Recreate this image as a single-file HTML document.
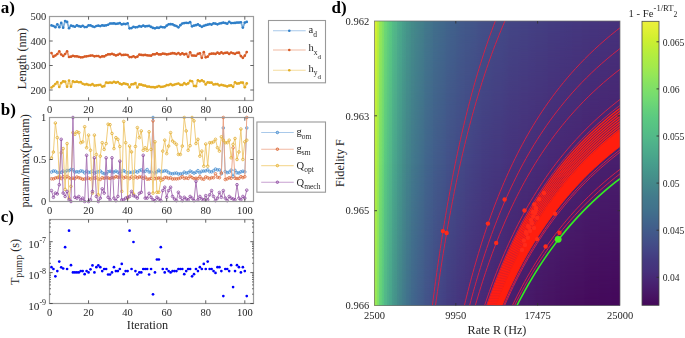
<!DOCTYPE html>
<html><head><meta charset="utf-8"><style>
html,body{margin:0;padding:0;background:#fff;}
body{width:685px;height:338px;overflow:hidden;}
svg{display:block;font-family:"Liberation Serif",serif;}
text{filter:url(#soft);}
text.r{filter:none;}
</style></head><body>
<svg width="685" height="338" viewBox="0 0 685 338">
<defs><filter id="soft" x="-10%" y="-10%" width="120%" height="120%"><feGaussianBlur stdDeviation="0.24"/></filter><filter id="soft2" x="-10%" y="-10%" width="120%" height="120%"><feGaussianBlur stdDeviation="0.12"/></filter></defs>
<rect width="685" height="338" fill="#fff"/>
<polyline points="51.45,25.4 53.41,26 55.36,27.2 57.31,24.3 59.27,27.2 61.22,22.9 63.17,27.7 65.12,21.1 67.08,21.9 69.03,28.2 70.98,25.7 72.94,26.18 74.89,26.77 76.84,25.39 78.8,26.18 80.75,26.67 82.7,25.78 84.65,27.06 86.61,26.98 88.56,25.41 90.51,25.39 92.47,26.31 94.42,27.02 96.37,26.01 98.33,25.71 100.28,26.07 102.23,25.36 104.18,25.7 106.14,25.35 108.09,24.73 110.04,23.52 112,23.49 113.95,23.45 115.9,23.86 117.86,23.53 119.81,23.03 121.76,24.47 123.71,23.95 125.67,24.08 127.62,23.23 129.57,28.29 131.53,28.11 133.48,26.85 135.43,27.3 137.38,27.1 139.34,26.18 141.29,26.59 143.24,25.66 145.2,26.39 147.15,26.11 149.1,25.92 151.06,26.91 153.01,27.91 154.96,28.32 156.92,27.71 158.87,27.86 160.82,26.86 162.77,27.24 164.73,27.32 166.68,25.72 168.63,24.37 170.59,24.14 172.54,24.32 174.49,25.42 176.44,26.03 178.4,27.29 180.35,25.22 182.3,23.5 184.26,23.04 186.21,22.81 188.16,22.98 190.12,22.15 192.07,26.28 194.02,25.6 195.97,25.17 197.93,24.47 199.88,25.66 201.83,26.81 203.79,25.85 205.74,25.17 207.69,24.65 209.65,24.1 211.6,24.54 213.55,23.28 215.5,23.65 217.46,24.3 219.41,23.49 221.36,23.14 223.32,22.67 225.27,23.03 227.22,23.63 229.18,21.79 231.13,23.05 233.08,22.98 235.03,22.97 236.99,22.57 238.94,22.56 240.89,22.23 242.85,27.6 244.8,22.57 246.75,21.9" fill="none" stroke="#7fb0dc" stroke-width="1.8" stroke-linejoin="round"/>
<g fill="#2f7fc8">
<circle cx="51.45" cy="25.4" r="1.35"/>
<circle cx="53.41" cy="26" r="1.35"/>
<circle cx="55.36" cy="27.2" r="1.35"/>
<circle cx="57.31" cy="24.3" r="1.35"/>
<circle cx="59.27" cy="27.2" r="1.35"/>
<circle cx="61.22" cy="22.9" r="1.35"/>
<circle cx="63.17" cy="27.7" r="1.35"/>
<circle cx="65.12" cy="21.1" r="1.35"/>
<circle cx="67.08" cy="21.9" r="1.35"/>
<circle cx="69.03" cy="28.2" r="1.35"/>
<circle cx="70.98" cy="25.7" r="1.35"/>
<circle cx="72.94" cy="26.18" r="1.35"/>
<circle cx="74.89" cy="26.77" r="1.35"/>
<circle cx="76.84" cy="25.39" r="1.35"/>
<circle cx="78.8" cy="26.18" r="1.35"/>
<circle cx="80.75" cy="26.67" r="1.35"/>
<circle cx="82.7" cy="25.78" r="1.35"/>
<circle cx="84.65" cy="27.06" r="1.35"/>
<circle cx="86.61" cy="26.98" r="1.35"/>
<circle cx="88.56" cy="25.41" r="1.35"/>
<circle cx="90.51" cy="25.39" r="1.35"/>
<circle cx="92.47" cy="26.31" r="1.35"/>
<circle cx="94.42" cy="27.02" r="1.35"/>
<circle cx="96.37" cy="26.01" r="1.35"/>
<circle cx="98.33" cy="25.71" r="1.35"/>
<circle cx="100.28" cy="26.07" r="1.35"/>
<circle cx="102.23" cy="25.36" r="1.35"/>
<circle cx="104.18" cy="25.7" r="1.35"/>
<circle cx="106.14" cy="25.35" r="1.35"/>
<circle cx="108.09" cy="24.73" r="1.35"/>
<circle cx="110.04" cy="23.52" r="1.35"/>
<circle cx="112" cy="23.49" r="1.35"/>
<circle cx="113.95" cy="23.45" r="1.35"/>
<circle cx="115.9" cy="23.86" r="1.35"/>
<circle cx="117.86" cy="23.53" r="1.35"/>
<circle cx="119.81" cy="23.03" r="1.35"/>
<circle cx="121.76" cy="24.47" r="1.35"/>
<circle cx="123.71" cy="23.95" r="1.35"/>
<circle cx="125.67" cy="24.08" r="1.35"/>
<circle cx="127.62" cy="23.23" r="1.35"/>
<circle cx="129.57" cy="28.29" r="1.35"/>
<circle cx="131.53" cy="28.11" r="1.35"/>
<circle cx="133.48" cy="26.85" r="1.35"/>
<circle cx="135.43" cy="27.3" r="1.35"/>
<circle cx="137.38" cy="27.1" r="1.35"/>
<circle cx="139.34" cy="26.18" r="1.35"/>
<circle cx="141.29" cy="26.59" r="1.35"/>
<circle cx="143.24" cy="25.66" r="1.35"/>
<circle cx="145.2" cy="26.39" r="1.35"/>
<circle cx="147.15" cy="26.11" r="1.35"/>
<circle cx="149.1" cy="25.92" r="1.35"/>
<circle cx="151.06" cy="26.91" r="1.35"/>
<circle cx="153.01" cy="27.91" r="1.35"/>
<circle cx="154.96" cy="28.32" r="1.35"/>
<circle cx="156.92" cy="27.71" r="1.35"/>
<circle cx="158.87" cy="27.86" r="1.35"/>
<circle cx="160.82" cy="26.86" r="1.35"/>
<circle cx="162.77" cy="27.24" r="1.35"/>
<circle cx="164.73" cy="27.32" r="1.35"/>
<circle cx="166.68" cy="25.72" r="1.35"/>
<circle cx="168.63" cy="24.37" r="1.35"/>
<circle cx="170.59" cy="24.14" r="1.35"/>
<circle cx="172.54" cy="24.32" r="1.35"/>
<circle cx="174.49" cy="25.42" r="1.35"/>
<circle cx="176.44" cy="26.03" r="1.35"/>
<circle cx="178.4" cy="27.29" r="1.35"/>
<circle cx="180.35" cy="25.22" r="1.35"/>
<circle cx="182.3" cy="23.5" r="1.35"/>
<circle cx="184.26" cy="23.04" r="1.35"/>
<circle cx="186.21" cy="22.81" r="1.35"/>
<circle cx="188.16" cy="22.98" r="1.35"/>
<circle cx="190.12" cy="22.15" r="1.35"/>
<circle cx="192.07" cy="26.28" r="1.35"/>
<circle cx="194.02" cy="25.6" r="1.35"/>
<circle cx="195.97" cy="25.17" r="1.35"/>
<circle cx="197.93" cy="24.47" r="1.35"/>
<circle cx="199.88" cy="25.66" r="1.35"/>
<circle cx="201.83" cy="26.81" r="1.35"/>
<circle cx="203.79" cy="25.85" r="1.35"/>
<circle cx="205.74" cy="25.17" r="1.35"/>
<circle cx="207.69" cy="24.65" r="1.35"/>
<circle cx="209.65" cy="24.1" r="1.35"/>
<circle cx="211.6" cy="24.54" r="1.35"/>
<circle cx="213.55" cy="23.28" r="1.35"/>
<circle cx="215.5" cy="23.65" r="1.35"/>
<circle cx="217.46" cy="24.3" r="1.35"/>
<circle cx="219.41" cy="23.49" r="1.35"/>
<circle cx="221.36" cy="23.14" r="1.35"/>
<circle cx="223.32" cy="22.67" r="1.35"/>
<circle cx="225.27" cy="23.03" r="1.35"/>
<circle cx="227.22" cy="23.63" r="1.35"/>
<circle cx="229.18" cy="21.79" r="1.35"/>
<circle cx="231.13" cy="23.05" r="1.35"/>
<circle cx="233.08" cy="22.98" r="1.35"/>
<circle cx="235.03" cy="22.97" r="1.35"/>
<circle cx="236.99" cy="22.57" r="1.35"/>
<circle cx="238.94" cy="22.56" r="1.35"/>
<circle cx="240.89" cy="22.23" r="1.35"/>
<circle cx="242.85" cy="27.6" r="1.35"/>
<circle cx="244.8" cy="22.57" r="1.35"/>
<circle cx="246.75" cy="21.9" r="1.35"/>
</g>
<polyline points="51.45,53 53.41,56.7 55.36,55.5 57.31,54 59.27,51.4 61.22,54.5 63.17,56 65.12,54 67.08,51.4 69.03,57 70.98,56.7 72.94,55.89 74.89,56.36 76.84,56.28 78.8,56.86 80.75,57.34 82.7,57.25 84.65,56.5 86.61,56.31 88.56,55.98 90.51,55.55 92.47,55.52 94.42,56.3 96.37,56.02 98.33,56.12 100.28,57.03 102.23,56.36 104.18,56.41 106.14,55.26 108.09,54.31 110.04,54.29 112,53.91 113.95,54.55 115.9,55.4 117.86,54.78 119.81,53.86 121.76,55.11 123.71,54.9 125.67,54.76 127.62,55.03 129.57,57.07 131.53,57.09 133.48,56.27 135.43,57.37 137.38,56.66 139.34,54.56 141.29,54.96 143.24,55.14 145.2,54.93 147.15,55.3 149.1,55.48 151.06,55.66 153.01,54.3 154.96,54.3 156.92,53.44 158.87,54.39 160.82,54.42 162.77,53.63 164.73,53.82 166.68,54.46 168.63,54.1 170.59,53.68 172.54,53.2 174.49,53.38 176.44,54.06 178.4,53.1 180.35,54.43 182.3,53.28 184.26,54.44 186.21,53.87 188.16,56.8 190.12,52.3 192.07,55.51 194.02,55.53 195.97,55.77 197.93,53.86 199.88,53.36 201.83,57.8 203.79,52.2 205.74,57.28 207.69,56.72 209.65,54.04 211.6,53.69 213.55,53.61 215.5,53.93 217.46,52.64 219.41,53.64 221.36,52.41 223.32,53.48 225.27,52.79 227.22,52.71 229.18,53.88 231.13,52.49 233.08,53.24 235.03,53.84 236.99,52.74 238.94,52.68 240.89,56.09 242.85,57.8 244.8,55.64 246.75,52.06" fill="none" stroke="#e99a78" stroke-width="1.8" stroke-linejoin="round"/>
<g fill="#d65a24">
<circle cx="51.45" cy="53" r="1.35"/>
<circle cx="53.41" cy="56.7" r="1.35"/>
<circle cx="55.36" cy="55.5" r="1.35"/>
<circle cx="57.31" cy="54" r="1.35"/>
<circle cx="59.27" cy="51.4" r="1.35"/>
<circle cx="61.22" cy="54.5" r="1.35"/>
<circle cx="63.17" cy="56" r="1.35"/>
<circle cx="65.12" cy="54" r="1.35"/>
<circle cx="67.08" cy="51.4" r="1.35"/>
<circle cx="69.03" cy="57" r="1.35"/>
<circle cx="70.98" cy="56.7" r="1.35"/>
<circle cx="72.94" cy="55.89" r="1.35"/>
<circle cx="74.89" cy="56.36" r="1.35"/>
<circle cx="76.84" cy="56.28" r="1.35"/>
<circle cx="78.8" cy="56.86" r="1.35"/>
<circle cx="80.75" cy="57.34" r="1.35"/>
<circle cx="82.7" cy="57.25" r="1.35"/>
<circle cx="84.65" cy="56.5" r="1.35"/>
<circle cx="86.61" cy="56.31" r="1.35"/>
<circle cx="88.56" cy="55.98" r="1.35"/>
<circle cx="90.51" cy="55.55" r="1.35"/>
<circle cx="92.47" cy="55.52" r="1.35"/>
<circle cx="94.42" cy="56.3" r="1.35"/>
<circle cx="96.37" cy="56.02" r="1.35"/>
<circle cx="98.33" cy="56.12" r="1.35"/>
<circle cx="100.28" cy="57.03" r="1.35"/>
<circle cx="102.23" cy="56.36" r="1.35"/>
<circle cx="104.18" cy="56.41" r="1.35"/>
<circle cx="106.14" cy="55.26" r="1.35"/>
<circle cx="108.09" cy="54.31" r="1.35"/>
<circle cx="110.04" cy="54.29" r="1.35"/>
<circle cx="112" cy="53.91" r="1.35"/>
<circle cx="113.95" cy="54.55" r="1.35"/>
<circle cx="115.9" cy="55.4" r="1.35"/>
<circle cx="117.86" cy="54.78" r="1.35"/>
<circle cx="119.81" cy="53.86" r="1.35"/>
<circle cx="121.76" cy="55.11" r="1.35"/>
<circle cx="123.71" cy="54.9" r="1.35"/>
<circle cx="125.67" cy="54.76" r="1.35"/>
<circle cx="127.62" cy="55.03" r="1.35"/>
<circle cx="129.57" cy="57.07" r="1.35"/>
<circle cx="131.53" cy="57.09" r="1.35"/>
<circle cx="133.48" cy="56.27" r="1.35"/>
<circle cx="135.43" cy="57.37" r="1.35"/>
<circle cx="137.38" cy="56.66" r="1.35"/>
<circle cx="139.34" cy="54.56" r="1.35"/>
<circle cx="141.29" cy="54.96" r="1.35"/>
<circle cx="143.24" cy="55.14" r="1.35"/>
<circle cx="145.2" cy="54.93" r="1.35"/>
<circle cx="147.15" cy="55.3" r="1.35"/>
<circle cx="149.1" cy="55.48" r="1.35"/>
<circle cx="151.06" cy="55.66" r="1.35"/>
<circle cx="153.01" cy="54.3" r="1.35"/>
<circle cx="154.96" cy="54.3" r="1.35"/>
<circle cx="156.92" cy="53.44" r="1.35"/>
<circle cx="158.87" cy="54.39" r="1.35"/>
<circle cx="160.82" cy="54.42" r="1.35"/>
<circle cx="162.77" cy="53.63" r="1.35"/>
<circle cx="164.73" cy="53.82" r="1.35"/>
<circle cx="166.68" cy="54.46" r="1.35"/>
<circle cx="168.63" cy="54.1" r="1.35"/>
<circle cx="170.59" cy="53.68" r="1.35"/>
<circle cx="172.54" cy="53.2" r="1.35"/>
<circle cx="174.49" cy="53.38" r="1.35"/>
<circle cx="176.44" cy="54.06" r="1.35"/>
<circle cx="178.4" cy="53.1" r="1.35"/>
<circle cx="180.35" cy="54.43" r="1.35"/>
<circle cx="182.3" cy="53.28" r="1.35"/>
<circle cx="184.26" cy="54.44" r="1.35"/>
<circle cx="186.21" cy="53.87" r="1.35"/>
<circle cx="188.16" cy="56.8" r="1.35"/>
<circle cx="190.12" cy="52.3" r="1.35"/>
<circle cx="192.07" cy="55.51" r="1.35"/>
<circle cx="194.02" cy="55.53" r="1.35"/>
<circle cx="195.97" cy="55.77" r="1.35"/>
<circle cx="197.93" cy="53.86" r="1.35"/>
<circle cx="199.88" cy="53.36" r="1.35"/>
<circle cx="201.83" cy="57.8" r="1.35"/>
<circle cx="203.79" cy="52.2" r="1.35"/>
<circle cx="205.74" cy="57.28" r="1.35"/>
<circle cx="207.69" cy="56.72" r="1.35"/>
<circle cx="209.65" cy="54.04" r="1.35"/>
<circle cx="211.6" cy="53.69" r="1.35"/>
<circle cx="213.55" cy="53.61" r="1.35"/>
<circle cx="215.5" cy="53.93" r="1.35"/>
<circle cx="217.46" cy="52.64" r="1.35"/>
<circle cx="219.41" cy="53.64" r="1.35"/>
<circle cx="221.36" cy="52.41" r="1.35"/>
<circle cx="223.32" cy="53.48" r="1.35"/>
<circle cx="225.27" cy="52.79" r="1.35"/>
<circle cx="227.22" cy="52.71" r="1.35"/>
<circle cx="229.18" cy="53.88" r="1.35"/>
<circle cx="231.13" cy="52.49" r="1.35"/>
<circle cx="233.08" cy="53.24" r="1.35"/>
<circle cx="235.03" cy="53.84" r="1.35"/>
<circle cx="236.99" cy="52.74" r="1.35"/>
<circle cx="238.94" cy="52.68" r="1.35"/>
<circle cx="240.89" cy="56.09" r="1.35"/>
<circle cx="242.85" cy="57.8" r="1.35"/>
<circle cx="244.8" cy="55.64" r="1.35"/>
<circle cx="246.75" cy="52.06" r="1.35"/>
</g>
<polyline points="51.45,87.5 53.41,86 55.36,84 57.31,82.1 59.27,87 61.22,83 63.17,81.4 65.12,81.6 67.08,86.7 69.03,80.6 70.98,86.7 72.94,81.4 74.89,82.01 76.84,81.66 78.8,82.25 80.75,82.12 82.7,83.74 84.65,84.49 86.61,84.19 88.56,84.91 90.51,85.11 92.47,84.15 94.42,85.53 96.37,85.36 98.33,85.09 100.28,84.86 102.23,86.61 104.18,86.15 106.14,82.49 108.09,82.78 110.04,82.49 112,82.86 113.95,81.91 115.9,82.64 117.86,82 119.81,83.68 121.76,84.38 123.71,83.38 125.67,83.84 127.62,84.39 129.57,87.24 131.53,84.29 133.48,84.13 135.43,83.04 137.38,87.51 139.34,84.39 141.29,84.65 143.24,85.39 145.2,85.71 147.15,86.61 149.1,86.53 151.06,87.07 153.01,87.04 154.96,87.38 156.92,86.91 158.87,86.09 160.82,86.95 162.77,86.74 164.73,86.23 166.68,85.22 168.63,85.08 170.59,84.1 172.54,85.13 174.49,84.58 176.44,83.98 178.4,83.5 180.35,84.84 182.3,84.93 184.26,83.16 186.21,84.29 188.16,83.44 190.12,80.97 192.07,81.23 194.02,85.98 195.97,86.17 197.93,80.28 199.88,81.31 201.83,80.28 203.79,81.49 205.74,84.4 207.69,82.29 209.65,82.67 211.6,82.71 213.55,84.5 215.5,84.16 217.46,84.14 219.41,85.48 221.36,84.86 223.32,85.32 225.27,85.87 227.22,86.4 229.18,85.58 231.13,85.38 233.08,86.86 235.03,82.36 236.99,83.53 238.94,83.41 240.89,82.48 242.85,82.63 244.8,87.24 246.75,83.46" fill="none" stroke="#f0cb72" stroke-width="1.8" stroke-linejoin="round"/>
<g fill="#e2aa22">
<circle cx="51.45" cy="87.5" r="1.35"/>
<circle cx="53.41" cy="86" r="1.35"/>
<circle cx="55.36" cy="84" r="1.35"/>
<circle cx="57.31" cy="82.1" r="1.35"/>
<circle cx="59.27" cy="87" r="1.35"/>
<circle cx="61.22" cy="83" r="1.35"/>
<circle cx="63.17" cy="81.4" r="1.35"/>
<circle cx="65.12" cy="81.6" r="1.35"/>
<circle cx="67.08" cy="86.7" r="1.35"/>
<circle cx="69.03" cy="80.6" r="1.35"/>
<circle cx="70.98" cy="86.7" r="1.35"/>
<circle cx="72.94" cy="81.4" r="1.35"/>
<circle cx="74.89" cy="82.01" r="1.35"/>
<circle cx="76.84" cy="81.66" r="1.35"/>
<circle cx="78.8" cy="82.25" r="1.35"/>
<circle cx="80.75" cy="82.12" r="1.35"/>
<circle cx="82.7" cy="83.74" r="1.35"/>
<circle cx="84.65" cy="84.49" r="1.35"/>
<circle cx="86.61" cy="84.19" r="1.35"/>
<circle cx="88.56" cy="84.91" r="1.35"/>
<circle cx="90.51" cy="85.11" r="1.35"/>
<circle cx="92.47" cy="84.15" r="1.35"/>
<circle cx="94.42" cy="85.53" r="1.35"/>
<circle cx="96.37" cy="85.36" r="1.35"/>
<circle cx="98.33" cy="85.09" r="1.35"/>
<circle cx="100.28" cy="84.86" r="1.35"/>
<circle cx="102.23" cy="86.61" r="1.35"/>
<circle cx="104.18" cy="86.15" r="1.35"/>
<circle cx="106.14" cy="82.49" r="1.35"/>
<circle cx="108.09" cy="82.78" r="1.35"/>
<circle cx="110.04" cy="82.49" r="1.35"/>
<circle cx="112" cy="82.86" r="1.35"/>
<circle cx="113.95" cy="81.91" r="1.35"/>
<circle cx="115.9" cy="82.64" r="1.35"/>
<circle cx="117.86" cy="82" r="1.35"/>
<circle cx="119.81" cy="83.68" r="1.35"/>
<circle cx="121.76" cy="84.38" r="1.35"/>
<circle cx="123.71" cy="83.38" r="1.35"/>
<circle cx="125.67" cy="83.84" r="1.35"/>
<circle cx="127.62" cy="84.39" r="1.35"/>
<circle cx="129.57" cy="87.24" r="1.35"/>
<circle cx="131.53" cy="84.29" r="1.35"/>
<circle cx="133.48" cy="84.13" r="1.35"/>
<circle cx="135.43" cy="83.04" r="1.35"/>
<circle cx="137.38" cy="87.51" r="1.35"/>
<circle cx="139.34" cy="84.39" r="1.35"/>
<circle cx="141.29" cy="84.65" r="1.35"/>
<circle cx="143.24" cy="85.39" r="1.35"/>
<circle cx="145.2" cy="85.71" r="1.35"/>
<circle cx="147.15" cy="86.61" r="1.35"/>
<circle cx="149.1" cy="86.53" r="1.35"/>
<circle cx="151.06" cy="87.07" r="1.35"/>
<circle cx="153.01" cy="87.04" r="1.35"/>
<circle cx="154.96" cy="87.38" r="1.35"/>
<circle cx="156.92" cy="86.91" r="1.35"/>
<circle cx="158.87" cy="86.09" r="1.35"/>
<circle cx="160.82" cy="86.95" r="1.35"/>
<circle cx="162.77" cy="86.74" r="1.35"/>
<circle cx="164.73" cy="86.23" r="1.35"/>
<circle cx="166.68" cy="85.22" r="1.35"/>
<circle cx="168.63" cy="85.08" r="1.35"/>
<circle cx="170.59" cy="84.1" r="1.35"/>
<circle cx="172.54" cy="85.13" r="1.35"/>
<circle cx="174.49" cy="84.58" r="1.35"/>
<circle cx="176.44" cy="83.98" r="1.35"/>
<circle cx="178.4" cy="83.5" r="1.35"/>
<circle cx="180.35" cy="84.84" r="1.35"/>
<circle cx="182.3" cy="84.93" r="1.35"/>
<circle cx="184.26" cy="83.16" r="1.35"/>
<circle cx="186.21" cy="84.29" r="1.35"/>
<circle cx="188.16" cy="83.44" r="1.35"/>
<circle cx="190.12" cy="80.97" r="1.35"/>
<circle cx="192.07" cy="81.23" r="1.35"/>
<circle cx="194.02" cy="85.98" r="1.35"/>
<circle cx="195.97" cy="86.17" r="1.35"/>
<circle cx="197.93" cy="80.28" r="1.35"/>
<circle cx="199.88" cy="81.31" r="1.35"/>
<circle cx="201.83" cy="80.28" r="1.35"/>
<circle cx="203.79" cy="81.49" r="1.35"/>
<circle cx="205.74" cy="84.4" r="1.35"/>
<circle cx="207.69" cy="82.29" r="1.35"/>
<circle cx="209.65" cy="82.67" r="1.35"/>
<circle cx="211.6" cy="82.71" r="1.35"/>
<circle cx="213.55" cy="84.5" r="1.35"/>
<circle cx="215.5" cy="84.16" r="1.35"/>
<circle cx="217.46" cy="84.14" r="1.35"/>
<circle cx="219.41" cy="85.48" r="1.35"/>
<circle cx="221.36" cy="84.86" r="1.35"/>
<circle cx="223.32" cy="85.32" r="1.35"/>
<circle cx="225.27" cy="85.87" r="1.35"/>
<circle cx="227.22" cy="86.4" r="1.35"/>
<circle cx="229.18" cy="85.58" r="1.35"/>
<circle cx="231.13" cy="85.38" r="1.35"/>
<circle cx="233.08" cy="86.86" r="1.35"/>
<circle cx="235.03" cy="82.36" r="1.35"/>
<circle cx="236.99" cy="83.53" r="1.35"/>
<circle cx="238.94" cy="83.41" r="1.35"/>
<circle cx="240.89" cy="82.48" r="1.35"/>
<circle cx="242.85" cy="82.63" r="1.35"/>
<circle cx="244.8" cy="87.24" r="1.35"/>
<circle cx="246.75" cy="83.46" r="1.35"/>
</g>
<rect x="49.5" y="16.5" width="204" height="84" fill="none" stroke="#9c9c9c" stroke-width="1.2"/>
<text x="49.5" y="113" font-size="10.5" text-anchor="middle" fill="#262626" >0</text>
<path d="M88.56 100.5v-3.2M88.56 16.5v3.2" stroke="#3a3a3a" stroke-width="0.8"/>
<text x="88.56" y="113" font-size="10.5" text-anchor="middle" fill="#262626" >20</text>
<path d="M127.62 100.5v-3.2M127.62 16.5v3.2" stroke="#3a3a3a" stroke-width="0.8"/>
<text x="127.62" y="113" font-size="10.5" text-anchor="middle" fill="#262626" >40</text>
<path d="M166.68 100.5v-3.2M166.68 16.5v3.2" stroke="#3a3a3a" stroke-width="0.8"/>
<text x="166.68" y="113" font-size="10.5" text-anchor="middle" fill="#262626" >60</text>
<path d="M205.74 100.5v-3.2M205.74 16.5v3.2" stroke="#3a3a3a" stroke-width="0.8"/>
<text x="205.74" y="113" font-size="10.5" text-anchor="middle" fill="#262626" >80</text>
<path d="M244.8 100.5v-3.2M244.8 16.5v3.2" stroke="#3a3a3a" stroke-width="0.8"/>
<text x="244.8" y="113" font-size="10.5" text-anchor="middle" fill="#262626" >100</text>
<text x="46.3" y="20.1" font-size="10.5" text-anchor="end" fill="#262626" >500</text>
<path d="M49.5 41h3.2M253.5 41h-3.2" stroke="#3a3a3a" stroke-width="0.8"/>
<text x="46.3" y="44.6" font-size="10.5" text-anchor="end" fill="#262626" >400</text>
<path d="M49.5 65.5h3.2M253.5 65.5h-3.2" stroke="#3a3a3a" stroke-width="0.8"/>
<text x="46.3" y="69.1" font-size="10.5" text-anchor="end" fill="#262626" >300</text>
<path d="M49.5 90h3.2M253.5 90h-3.2" stroke="#3a3a3a" stroke-width="0.8"/>
<text x="46.3" y="93.6" font-size="10.5" text-anchor="end" fill="#262626" >200</text>
<text class="r" transform="translate(25.8 58.5) rotate(-90)" font-size="12.2" text-anchor="middle" fill="#262626">Length (nm)</text>
<rect x="268.5" y="20.5" width="57" height="62.3" fill="#fff" stroke="#999" stroke-width="1.1"/>
<path d="M273 30.8H305.7" stroke="#a9c9ea" stroke-width="1.1"/>
<circle cx="289.3" cy="30.8" r="1.3" fill="#2f7fc8"/>
<path d="M273 50H305.7" stroke="#f2b9a2" stroke-width="1.1"/>
<circle cx="289.3" cy="50" r="1.3" fill="#d65a24"/>
<path d="M273 70.3H305.7" stroke="#f5dc9e" stroke-width="1.1"/>
<circle cx="289.3" cy="70.3" r="1.3" fill="#e2aa22"/>
<text x="308.5" y="32.6" font-size="10.5" fill="#262626">a<tspan font-size="7.5" dy="4.8">d</tspan></text>
<text x="308.5" y="51.2" font-size="10.5" fill="#262626">h<tspan font-size="7.5" dy="4.0">x</tspan><tspan font-size="7" dy="4.0">d</tspan></text>
<text x="308.5" y="71.6" font-size="10.5" fill="#262626">h<tspan font-size="7.5" dy="3.7">y</tspan><tspan font-size="7" dy="3.7">d</tspan></text>
<polyline points="51.45,172.07 53.41,170.95 55.36,171.17 57.31,172.5 59.27,172.46 61.22,172.27 63.17,171.14 65.12,172 67.08,170.46 69.03,170.61 70.98,169.43 72.94,169.83 74.89,172.06 76.84,171.65 78.8,172.14 80.75,170.88 82.7,171.28 84.65,172.89 86.61,171.16 88.56,172.4 90.51,172.12 92.47,171.21 94.42,172.99 96.37,172.24 98.33,171.7 100.28,171.01 102.23,172.75 104.18,173.57 106.14,173.91 108.09,171.69 110.04,171.3 112,171.77 113.95,172.03 115.9,171.14 117.86,172.12 119.81,173.24 121.76,171.33 123.71,170.66 125.67,171.84 127.62,172.81 129.57,172.24 131.53,172.46 133.48,172.15 135.43,171.28 137.38,172.16 139.34,170.71 141.29,169.87 143.24,171.52 145.2,171.31 147.15,169.55 149.1,171.99 151.06,171.91 153.01,117.5 154.96,172.83 156.92,171.86 158.87,170.23 160.82,171.7 162.77,171.35 164.73,170.81 166.68,171 168.63,172.57 170.59,173.54 172.54,173.74 174.49,173.36 176.44,172.99 178.4,174.03 180.35,173.71 182.3,173.91 184.26,172.07 186.21,173.09 188.16,172.65 190.12,171.08 192.07,172.11 194.02,173.13 195.97,172.21 197.93,170.6 199.88,172.9 201.83,171.24 203.79,171.07 205.74,171.01 207.69,169.91 209.65,171.65 211.6,171.89 213.55,170.75 215.5,169.08 217.46,169.91 219.41,169.83 221.36,173.78 223.32,127.92 225.27,171.57 227.22,172.67 229.18,172.1 231.13,170.13 233.08,176.3 235.03,170.41 236.99,172.77 238.94,172.97 240.89,171.8 242.85,171.25 244.8,171.9 246.75,127.92" fill="none" stroke="#8ab7e0" stroke-width="0.9" stroke-linejoin="round"/>
<g fill="none" stroke="#4a8fd0" stroke-width="0.8">
<circle cx="51.45" cy="172.07" r="1.3"/>
<circle cx="53.41" cy="170.95" r="1.3"/>
<circle cx="55.36" cy="171.17" r="1.3"/>
<circle cx="57.31" cy="172.5" r="1.3"/>
<circle cx="59.27" cy="172.46" r="1.3"/>
<circle cx="61.22" cy="172.27" r="1.3"/>
<circle cx="63.17" cy="171.14" r="1.3"/>
<circle cx="65.12" cy="172" r="1.3"/>
<circle cx="67.08" cy="170.46" r="1.3"/>
<circle cx="69.03" cy="170.61" r="1.3"/>
<circle cx="70.98" cy="169.43" r="1.3"/>
<circle cx="72.94" cy="169.83" r="1.3"/>
<circle cx="74.89" cy="172.06" r="1.3"/>
<circle cx="76.84" cy="171.65" r="1.3"/>
<circle cx="78.8" cy="172.14" r="1.3"/>
<circle cx="80.75" cy="170.88" r="1.3"/>
<circle cx="82.7" cy="171.28" r="1.3"/>
<circle cx="84.65" cy="172.89" r="1.3"/>
<circle cx="86.61" cy="171.16" r="1.3"/>
<circle cx="88.56" cy="172.4" r="1.3"/>
<circle cx="90.51" cy="172.12" r="1.3"/>
<circle cx="92.47" cy="171.21" r="1.3"/>
<circle cx="94.42" cy="172.99" r="1.3"/>
<circle cx="96.37" cy="172.24" r="1.3"/>
<circle cx="98.33" cy="171.7" r="1.3"/>
<circle cx="100.28" cy="171.01" r="1.3"/>
<circle cx="102.23" cy="172.75" r="1.3"/>
<circle cx="104.18" cy="173.57" r="1.3"/>
<circle cx="106.14" cy="173.91" r="1.3"/>
<circle cx="108.09" cy="171.69" r="1.3"/>
<circle cx="110.04" cy="171.3" r="1.3"/>
<circle cx="112" cy="171.77" r="1.3"/>
<circle cx="113.95" cy="172.03" r="1.3"/>
<circle cx="115.9" cy="171.14" r="1.3"/>
<circle cx="117.86" cy="172.12" r="1.3"/>
<circle cx="119.81" cy="173.24" r="1.3"/>
<circle cx="121.76" cy="171.33" r="1.3"/>
<circle cx="123.71" cy="170.66" r="1.3"/>
<circle cx="125.67" cy="171.84" r="1.3"/>
<circle cx="127.62" cy="172.81" r="1.3"/>
<circle cx="129.57" cy="172.24" r="1.3"/>
<circle cx="131.53" cy="172.46" r="1.3"/>
<circle cx="133.48" cy="172.15" r="1.3"/>
<circle cx="135.43" cy="171.28" r="1.3"/>
<circle cx="137.38" cy="172.16" r="1.3"/>
<circle cx="139.34" cy="170.71" r="1.3"/>
<circle cx="141.29" cy="169.87" r="1.3"/>
<circle cx="143.24" cy="171.52" r="1.3"/>
<circle cx="145.2" cy="171.31" r="1.3"/>
<circle cx="147.15" cy="169.55" r="1.3"/>
<circle cx="149.1" cy="171.99" r="1.3"/>
<circle cx="151.06" cy="171.91" r="1.3"/>
<circle cx="153.01" cy="117.5" r="1.3"/>
<circle cx="154.96" cy="172.83" r="1.3"/>
<circle cx="156.92" cy="171.86" r="1.3"/>
<circle cx="158.87" cy="170.23" r="1.3"/>
<circle cx="160.82" cy="171.7" r="1.3"/>
<circle cx="162.77" cy="171.35" r="1.3"/>
<circle cx="164.73" cy="170.81" r="1.3"/>
<circle cx="166.68" cy="171" r="1.3"/>
<circle cx="168.63" cy="172.57" r="1.3"/>
<circle cx="170.59" cy="173.54" r="1.3"/>
<circle cx="172.54" cy="173.74" r="1.3"/>
<circle cx="174.49" cy="173.36" r="1.3"/>
<circle cx="176.44" cy="172.99" r="1.3"/>
<circle cx="178.4" cy="174.03" r="1.3"/>
<circle cx="180.35" cy="173.71" r="1.3"/>
<circle cx="182.3" cy="173.91" r="1.3"/>
<circle cx="184.26" cy="172.07" r="1.3"/>
<circle cx="186.21" cy="173.09" r="1.3"/>
<circle cx="188.16" cy="172.65" r="1.3"/>
<circle cx="190.12" cy="171.08" r="1.3"/>
<circle cx="192.07" cy="172.11" r="1.3"/>
<circle cx="194.02" cy="173.13" r="1.3"/>
<circle cx="195.97" cy="172.21" r="1.3"/>
<circle cx="197.93" cy="170.6" r="1.3"/>
<circle cx="199.88" cy="172.9" r="1.3"/>
<circle cx="201.83" cy="171.24" r="1.3"/>
<circle cx="203.79" cy="171.07" r="1.3"/>
<circle cx="205.74" cy="171.01" r="1.3"/>
<circle cx="207.69" cy="169.91" r="1.3"/>
<circle cx="209.65" cy="171.65" r="1.3"/>
<circle cx="211.6" cy="171.89" r="1.3"/>
<circle cx="213.55" cy="170.75" r="1.3"/>
<circle cx="215.5" cy="169.08" r="1.3"/>
<circle cx="217.46" cy="169.91" r="1.3"/>
<circle cx="219.41" cy="169.83" r="1.3"/>
<circle cx="221.36" cy="173.78" r="1.3"/>
<circle cx="223.32" cy="127.92" r="1.3"/>
<circle cx="225.27" cy="171.57" r="1.3"/>
<circle cx="227.22" cy="172.67" r="1.3"/>
<circle cx="229.18" cy="172.1" r="1.3"/>
<circle cx="231.13" cy="170.13" r="1.3"/>
<circle cx="233.08" cy="176.3" r="1.3"/>
<circle cx="235.03" cy="170.41" r="1.3"/>
<circle cx="236.99" cy="172.77" r="1.3"/>
<circle cx="238.94" cy="172.97" r="1.3"/>
<circle cx="240.89" cy="171.8" r="1.3"/>
<circle cx="242.85" cy="171.25" r="1.3"/>
<circle cx="244.8" cy="171.9" r="1.3"/>
<circle cx="246.75" cy="127.92" r="1.3"/>
</g>
<polyline points="51.45,178.76 53.41,178.86 55.36,178.03 57.31,177.6 59.27,177.72 61.22,178.54 63.17,176.66 65.12,178.17 67.08,176.36 69.03,177.78 70.98,178.72 72.94,178.17 74.89,178.68 76.84,177.01 78.8,177.7 80.75,178.33 82.7,179.21 84.65,178.94 86.61,178.47 88.56,178.15 90.51,178.92 92.47,177.96 94.42,178.29 96.37,177.54 98.33,179 100.28,179.39 102.23,177.72 104.18,178.33 106.14,177.79 108.09,177.94 110.04,178.49 112,177.68 113.95,177.93 115.9,176.61 117.86,177.24 119.81,177.07 121.76,176.28 123.71,178.03 125.67,177.05 127.62,177.58 129.57,178.47 131.53,176.87 133.48,178.25 135.43,176.75 137.38,177.9 139.34,176.9 141.29,177.05 143.24,178.28 145.2,177.2 147.15,179.13 149.1,179.01 151.06,178.44 153.01,120.86 154.96,178.68 156.92,178.32 158.87,177.99 160.82,178.15 162.77,179.52 164.73,177.62 166.68,177.5 168.63,178.42 170.59,177.73 172.54,179.05 174.49,178.71 176.44,178.9 178.4,178.56 180.35,177.95 182.3,176.6 184.26,178.39 186.21,177.87 188.16,178.43 190.12,176.25 192.07,177.57 194.02,178.59 195.97,178.25 197.93,178.59 199.88,176.69 201.83,178.82 203.79,179.22 205.74,176.92 207.69,177.72 209.65,178.64 211.6,177.69 213.55,177.72 215.5,173.78 217.46,177.26 219.41,177.71 221.36,172.94 223.32,117.5 225.27,179.55 227.22,178.84 229.18,177.71 231.13,178.24 233.08,147.74 235.03,178.25 236.99,178.5 238.94,178.46 240.89,176.63 242.85,177.62 244.8,176.76 246.75,117.5" fill="none" stroke="#ec9f80" stroke-width="0.9" stroke-linejoin="round"/>
<g fill="none" stroke="#dc6a3a" stroke-width="0.8">
<circle cx="51.45" cy="178.76" r="1.3"/>
<circle cx="53.41" cy="178.86" r="1.3"/>
<circle cx="55.36" cy="178.03" r="1.3"/>
<circle cx="57.31" cy="177.6" r="1.3"/>
<circle cx="59.27" cy="177.72" r="1.3"/>
<circle cx="61.22" cy="178.54" r="1.3"/>
<circle cx="63.17" cy="176.66" r="1.3"/>
<circle cx="65.12" cy="178.17" r="1.3"/>
<circle cx="67.08" cy="176.36" r="1.3"/>
<circle cx="69.03" cy="177.78" r="1.3"/>
<circle cx="70.98" cy="178.72" r="1.3"/>
<circle cx="72.94" cy="178.17" r="1.3"/>
<circle cx="74.89" cy="178.68" r="1.3"/>
<circle cx="76.84" cy="177.01" r="1.3"/>
<circle cx="78.8" cy="177.7" r="1.3"/>
<circle cx="80.75" cy="178.33" r="1.3"/>
<circle cx="82.7" cy="179.21" r="1.3"/>
<circle cx="84.65" cy="178.94" r="1.3"/>
<circle cx="86.61" cy="178.47" r="1.3"/>
<circle cx="88.56" cy="178.15" r="1.3"/>
<circle cx="90.51" cy="178.92" r="1.3"/>
<circle cx="92.47" cy="177.96" r="1.3"/>
<circle cx="94.42" cy="178.29" r="1.3"/>
<circle cx="96.37" cy="177.54" r="1.3"/>
<circle cx="98.33" cy="179" r="1.3"/>
<circle cx="100.28" cy="179.39" r="1.3"/>
<circle cx="102.23" cy="177.72" r="1.3"/>
<circle cx="104.18" cy="178.33" r="1.3"/>
<circle cx="106.14" cy="177.79" r="1.3"/>
<circle cx="108.09" cy="177.94" r="1.3"/>
<circle cx="110.04" cy="178.49" r="1.3"/>
<circle cx="112" cy="177.68" r="1.3"/>
<circle cx="113.95" cy="177.93" r="1.3"/>
<circle cx="115.9" cy="176.61" r="1.3"/>
<circle cx="117.86" cy="177.24" r="1.3"/>
<circle cx="119.81" cy="177.07" r="1.3"/>
<circle cx="121.76" cy="176.28" r="1.3"/>
<circle cx="123.71" cy="178.03" r="1.3"/>
<circle cx="125.67" cy="177.05" r="1.3"/>
<circle cx="127.62" cy="177.58" r="1.3"/>
<circle cx="129.57" cy="178.47" r="1.3"/>
<circle cx="131.53" cy="176.87" r="1.3"/>
<circle cx="133.48" cy="178.25" r="1.3"/>
<circle cx="135.43" cy="176.75" r="1.3"/>
<circle cx="137.38" cy="177.9" r="1.3"/>
<circle cx="139.34" cy="176.9" r="1.3"/>
<circle cx="141.29" cy="177.05" r="1.3"/>
<circle cx="143.24" cy="178.28" r="1.3"/>
<circle cx="145.2" cy="177.2" r="1.3"/>
<circle cx="147.15" cy="179.13" r="1.3"/>
<circle cx="149.1" cy="179.01" r="1.3"/>
<circle cx="151.06" cy="178.44" r="1.3"/>
<circle cx="153.01" cy="120.86" r="1.3"/>
<circle cx="154.96" cy="178.68" r="1.3"/>
<circle cx="156.92" cy="178.32" r="1.3"/>
<circle cx="158.87" cy="177.99" r="1.3"/>
<circle cx="160.82" cy="178.15" r="1.3"/>
<circle cx="162.77" cy="179.52" r="1.3"/>
<circle cx="164.73" cy="177.62" r="1.3"/>
<circle cx="166.68" cy="177.5" r="1.3"/>
<circle cx="168.63" cy="178.42" r="1.3"/>
<circle cx="170.59" cy="177.73" r="1.3"/>
<circle cx="172.54" cy="179.05" r="1.3"/>
<circle cx="174.49" cy="178.71" r="1.3"/>
<circle cx="176.44" cy="178.9" r="1.3"/>
<circle cx="178.4" cy="178.56" r="1.3"/>
<circle cx="180.35" cy="177.95" r="1.3"/>
<circle cx="182.3" cy="176.6" r="1.3"/>
<circle cx="184.26" cy="178.39" r="1.3"/>
<circle cx="186.21" cy="177.87" r="1.3"/>
<circle cx="188.16" cy="178.43" r="1.3"/>
<circle cx="190.12" cy="176.25" r="1.3"/>
<circle cx="192.07" cy="177.57" r="1.3"/>
<circle cx="194.02" cy="178.59" r="1.3"/>
<circle cx="195.97" cy="178.25" r="1.3"/>
<circle cx="197.93" cy="178.59" r="1.3"/>
<circle cx="199.88" cy="176.69" r="1.3"/>
<circle cx="201.83" cy="178.82" r="1.3"/>
<circle cx="203.79" cy="179.22" r="1.3"/>
<circle cx="205.74" cy="176.92" r="1.3"/>
<circle cx="207.69" cy="177.72" r="1.3"/>
<circle cx="209.65" cy="178.64" r="1.3"/>
<circle cx="211.6" cy="177.69" r="1.3"/>
<circle cx="213.55" cy="177.72" r="1.3"/>
<circle cx="215.5" cy="173.78" r="1.3"/>
<circle cx="217.46" cy="177.26" r="1.3"/>
<circle cx="219.41" cy="177.71" r="1.3"/>
<circle cx="221.36" cy="172.94" r="1.3"/>
<circle cx="223.32" cy="117.5" r="1.3"/>
<circle cx="225.27" cy="179.55" r="1.3"/>
<circle cx="227.22" cy="178.84" r="1.3"/>
<circle cx="229.18" cy="177.71" r="1.3"/>
<circle cx="231.13" cy="178.24" r="1.3"/>
<circle cx="233.08" cy="147.74" r="1.3"/>
<circle cx="235.03" cy="178.25" r="1.3"/>
<circle cx="236.99" cy="178.5" r="1.3"/>
<circle cx="238.94" cy="178.46" r="1.3"/>
<circle cx="240.89" cy="176.63" r="1.3"/>
<circle cx="242.85" cy="177.62" r="1.3"/>
<circle cx="244.8" cy="176.76" r="1.3"/>
<circle cx="246.75" cy="117.5" r="1.3"/>
</g>
<polyline points="51.45,157.99 53.41,152.02 55.36,123.04 57.31,137.66 59.27,176.3 61.22,152.78 63.17,148.58 65.12,189.4 67.08,143.54 69.03,198.14 70.98,186.38 72.94,132.62 74.89,134.3 76.84,131.78 78.8,132.62 80.75,142.7 82.7,141.86 84.65,126.74 86.61,147.74 88.56,135.14 90.51,150.26 92.47,193.1 94.42,135.14 96.37,154.46 98.33,194.78 100.28,156.14 102.23,142.7 104.18,149.42 106.14,143.54 108.09,124.22 110.04,124.64 112,133.46 113.95,148.58 115.9,137.66 117.86,139.34 119.81,146.48 121.76,191.42 123.71,121.45 125.67,142.7 127.62,198.14 129.57,146.06 131.53,151.94 133.48,193.94 135.43,146.48 137.38,127.58 139.34,137.66 141.29,130.94 143.24,150.26 145.2,147.74 147.15,150.26 149.1,131.78 151.06,149.42 153.01,193.1 154.96,141.86 156.92,192.26 158.87,192.26 160.82,180.5 162.77,151.1 164.73,140.18 166.68,153.62 168.63,146.06 170.59,132.62 172.54,141.02 174.49,142.7 176.44,144.38 178.4,154.46 180.35,154.46 182.3,146.06 184.26,117.5 186.21,130.94 188.16,150.26 190.12,145.64 192.07,117.5 194.02,120.86 195.97,143.54 197.93,139.34 199.88,156.14 201.83,151.1 203.79,166.22 205.74,144.04 207.69,166.22 209.65,142.7 211.6,142.7 213.55,141.86 215.5,139.34 217.46,147.74 219.41,151.1 221.36,136.82 223.32,140.18 225.27,142.7 227.22,142.7 229.18,140.18 231.13,157.82 233.08,144.38 235.03,138.5 236.99,159.5 238.94,151.94 240.89,129.01 242.85,159.5 244.8,141.86 246.75,140.18" fill="none" stroke="#eec66c" stroke-width="0.9" stroke-linejoin="round"/>
<g fill="none" stroke="#e2ae34" stroke-width="0.8">
<circle cx="51.45" cy="157.99" r="1.3"/>
<circle cx="53.41" cy="152.02" r="1.3"/>
<circle cx="55.36" cy="123.04" r="1.3"/>
<circle cx="57.31" cy="137.66" r="1.3"/>
<circle cx="59.27" cy="176.3" r="1.3"/>
<circle cx="61.22" cy="152.78" r="1.3"/>
<circle cx="63.17" cy="148.58" r="1.3"/>
<circle cx="65.12" cy="189.4" r="1.3"/>
<circle cx="67.08" cy="143.54" r="1.3"/>
<circle cx="69.03" cy="198.14" r="1.3"/>
<circle cx="70.98" cy="186.38" r="1.3"/>
<circle cx="72.94" cy="132.62" r="1.3"/>
<circle cx="74.89" cy="134.3" r="1.3"/>
<circle cx="76.84" cy="131.78" r="1.3"/>
<circle cx="78.8" cy="132.62" r="1.3"/>
<circle cx="80.75" cy="142.7" r="1.3"/>
<circle cx="82.7" cy="141.86" r="1.3"/>
<circle cx="84.65" cy="126.74" r="1.3"/>
<circle cx="86.61" cy="147.74" r="1.3"/>
<circle cx="88.56" cy="135.14" r="1.3"/>
<circle cx="90.51" cy="150.26" r="1.3"/>
<circle cx="92.47" cy="193.1" r="1.3"/>
<circle cx="94.42" cy="135.14" r="1.3"/>
<circle cx="96.37" cy="154.46" r="1.3"/>
<circle cx="98.33" cy="194.78" r="1.3"/>
<circle cx="100.28" cy="156.14" r="1.3"/>
<circle cx="102.23" cy="142.7" r="1.3"/>
<circle cx="104.18" cy="149.42" r="1.3"/>
<circle cx="106.14" cy="143.54" r="1.3"/>
<circle cx="108.09" cy="124.22" r="1.3"/>
<circle cx="110.04" cy="124.64" r="1.3"/>
<circle cx="112" cy="133.46" r="1.3"/>
<circle cx="113.95" cy="148.58" r="1.3"/>
<circle cx="115.9" cy="137.66" r="1.3"/>
<circle cx="117.86" cy="139.34" r="1.3"/>
<circle cx="119.81" cy="146.48" r="1.3"/>
<circle cx="121.76" cy="191.42" r="1.3"/>
<circle cx="123.71" cy="121.45" r="1.3"/>
<circle cx="125.67" cy="142.7" r="1.3"/>
<circle cx="127.62" cy="198.14" r="1.3"/>
<circle cx="129.57" cy="146.06" r="1.3"/>
<circle cx="131.53" cy="151.94" r="1.3"/>
<circle cx="133.48" cy="193.94" r="1.3"/>
<circle cx="135.43" cy="146.48" r="1.3"/>
<circle cx="137.38" cy="127.58" r="1.3"/>
<circle cx="139.34" cy="137.66" r="1.3"/>
<circle cx="141.29" cy="130.94" r="1.3"/>
<circle cx="143.24" cy="150.26" r="1.3"/>
<circle cx="145.2" cy="147.74" r="1.3"/>
<circle cx="147.15" cy="150.26" r="1.3"/>
<circle cx="149.1" cy="131.78" r="1.3"/>
<circle cx="151.06" cy="149.42" r="1.3"/>
<circle cx="153.01" cy="193.1" r="1.3"/>
<circle cx="154.96" cy="141.86" r="1.3"/>
<circle cx="156.92" cy="192.26" r="1.3"/>
<circle cx="158.87" cy="192.26" r="1.3"/>
<circle cx="160.82" cy="180.5" r="1.3"/>
<circle cx="162.77" cy="151.1" r="1.3"/>
<circle cx="164.73" cy="140.18" r="1.3"/>
<circle cx="166.68" cy="153.62" r="1.3"/>
<circle cx="168.63" cy="146.06" r="1.3"/>
<circle cx="170.59" cy="132.62" r="1.3"/>
<circle cx="172.54" cy="141.02" r="1.3"/>
<circle cx="174.49" cy="142.7" r="1.3"/>
<circle cx="176.44" cy="144.38" r="1.3"/>
<circle cx="178.4" cy="154.46" r="1.3"/>
<circle cx="180.35" cy="154.46" r="1.3"/>
<circle cx="182.3" cy="146.06" r="1.3"/>
<circle cx="184.26" cy="117.5" r="1.3"/>
<circle cx="186.21" cy="130.94" r="1.3"/>
<circle cx="188.16" cy="150.26" r="1.3"/>
<circle cx="190.12" cy="145.64" r="1.3"/>
<circle cx="192.07" cy="117.5" r="1.3"/>
<circle cx="194.02" cy="120.86" r="1.3"/>
<circle cx="195.97" cy="143.54" r="1.3"/>
<circle cx="197.93" cy="139.34" r="1.3"/>
<circle cx="199.88" cy="156.14" r="1.3"/>
<circle cx="201.83" cy="151.1" r="1.3"/>
<circle cx="203.79" cy="166.22" r="1.3"/>
<circle cx="205.74" cy="144.04" r="1.3"/>
<circle cx="207.69" cy="166.22" r="1.3"/>
<circle cx="209.65" cy="142.7" r="1.3"/>
<circle cx="211.6" cy="142.7" r="1.3"/>
<circle cx="213.55" cy="141.86" r="1.3"/>
<circle cx="215.5" cy="139.34" r="1.3"/>
<circle cx="217.46" cy="147.74" r="1.3"/>
<circle cx="219.41" cy="151.1" r="1.3"/>
<circle cx="221.36" cy="136.82" r="1.3"/>
<circle cx="223.32" cy="140.18" r="1.3"/>
<circle cx="225.27" cy="142.7" r="1.3"/>
<circle cx="227.22" cy="142.7" r="1.3"/>
<circle cx="229.18" cy="140.18" r="1.3"/>
<circle cx="231.13" cy="157.82" r="1.3"/>
<circle cx="233.08" cy="144.38" r="1.3"/>
<circle cx="235.03" cy="138.5" r="1.3"/>
<circle cx="236.99" cy="159.5" r="1.3"/>
<circle cx="238.94" cy="151.94" r="1.3"/>
<circle cx="240.89" cy="129.01" r="1.3"/>
<circle cx="242.85" cy="159.5" r="1.3"/>
<circle cx="244.8" cy="141.86" r="1.3"/>
<circle cx="246.75" cy="140.18" r="1.3"/>
</g>
<polyline points="51.45,190.58 53.41,197.3 55.36,193.1 57.31,193.94 59.27,184.7 61.22,139.34 63.17,193.1 65.12,196.46 67.08,191.42 69.03,199.82 70.98,201.5 72.94,117.5 74.89,197.3 76.84,198.14 78.8,196.46 80.75,199.82 82.7,198.14 84.65,201.5 86.61,155.3 88.56,201.5 90.51,199.82 92.47,191.42 94.42,157.82 96.37,196.46 98.33,201.5 100.28,198.14 102.23,188.9 104.18,193.1 106.14,157.82 108.09,197.3 110.04,199.82 112,157.82 113.95,198.14 115.9,200.66 117.86,196.46 119.81,161.18 121.76,199.82 123.71,199.82 125.67,198.14 127.62,197.3 129.57,196.46 131.53,191.42 133.48,195.62 135.43,196.46 137.38,198.14 139.34,193.35 141.29,192.26 143.24,155.3 145.2,198.14 147.15,198.14 149.1,193.35 151.06,197.3 153.01,199.82 154.96,200.66 156.92,197.3 158.87,198.98 160.82,200.66 162.77,190.58 164.73,187.22 166.68,197.3 168.63,190.58 170.59,187.22 172.54,196.46 174.49,198.98 176.44,200.66 178.4,192.26 180.35,197.3 182.3,200.66 184.26,197.3 186.21,198.98 188.16,199.82 190.12,196.46 192.07,198.14 194.02,200.66 195.97,181.34 197.93,199.82 199.88,196.46 201.83,198.98 203.79,199.82 205.74,195.62 207.69,199.82 209.65,194.78 211.6,190.58 213.55,196.46 215.5,200.66 217.46,198.14 219.41,192.51 221.36,197.3 223.32,190.58 225.27,198.14 227.22,200.66 229.18,196.46 231.13,198.14 233.08,198.98 235.03,199.82 236.99,184.7 238.94,198.14 240.89,199.82 242.85,196.46 244.8,198.14 246.75,190.16" fill="none" stroke="#a46db0" stroke-width="0.9" stroke-linejoin="round"/>
<g fill="none" stroke="#8c48a0" stroke-width="0.8">
<circle cx="51.45" cy="190.58" r="1.3"/>
<circle cx="53.41" cy="197.3" r="1.3"/>
<circle cx="55.36" cy="193.1" r="1.3"/>
<circle cx="57.31" cy="193.94" r="1.3"/>
<circle cx="59.27" cy="184.7" r="1.3"/>
<circle cx="61.22" cy="139.34" r="1.3"/>
<circle cx="63.17" cy="193.1" r="1.3"/>
<circle cx="65.12" cy="196.46" r="1.3"/>
<circle cx="67.08" cy="191.42" r="1.3"/>
<circle cx="69.03" cy="199.82" r="1.3"/>
<circle cx="70.98" cy="201.5" r="1.3"/>
<circle cx="72.94" cy="117.5" r="1.3"/>
<circle cx="74.89" cy="197.3" r="1.3"/>
<circle cx="76.84" cy="198.14" r="1.3"/>
<circle cx="78.8" cy="196.46" r="1.3"/>
<circle cx="80.75" cy="199.82" r="1.3"/>
<circle cx="82.7" cy="198.14" r="1.3"/>
<circle cx="84.65" cy="201.5" r="1.3"/>
<circle cx="86.61" cy="155.3" r="1.3"/>
<circle cx="88.56" cy="201.5" r="1.3"/>
<circle cx="90.51" cy="199.82" r="1.3"/>
<circle cx="92.47" cy="191.42" r="1.3"/>
<circle cx="94.42" cy="157.82" r="1.3"/>
<circle cx="96.37" cy="196.46" r="1.3"/>
<circle cx="98.33" cy="201.5" r="1.3"/>
<circle cx="100.28" cy="198.14" r="1.3"/>
<circle cx="102.23" cy="188.9" r="1.3"/>
<circle cx="104.18" cy="193.1" r="1.3"/>
<circle cx="106.14" cy="157.82" r="1.3"/>
<circle cx="108.09" cy="197.3" r="1.3"/>
<circle cx="110.04" cy="199.82" r="1.3"/>
<circle cx="112" cy="157.82" r="1.3"/>
<circle cx="113.95" cy="198.14" r="1.3"/>
<circle cx="115.9" cy="200.66" r="1.3"/>
<circle cx="117.86" cy="196.46" r="1.3"/>
<circle cx="119.81" cy="161.18" r="1.3"/>
<circle cx="121.76" cy="199.82" r="1.3"/>
<circle cx="123.71" cy="199.82" r="1.3"/>
<circle cx="125.67" cy="198.14" r="1.3"/>
<circle cx="127.62" cy="197.3" r="1.3"/>
<circle cx="129.57" cy="196.46" r="1.3"/>
<circle cx="131.53" cy="191.42" r="1.3"/>
<circle cx="133.48" cy="195.62" r="1.3"/>
<circle cx="135.43" cy="196.46" r="1.3"/>
<circle cx="137.38" cy="198.14" r="1.3"/>
<circle cx="139.34" cy="193.35" r="1.3"/>
<circle cx="141.29" cy="192.26" r="1.3"/>
<circle cx="143.24" cy="155.3" r="1.3"/>
<circle cx="145.2" cy="198.14" r="1.3"/>
<circle cx="147.15" cy="198.14" r="1.3"/>
<circle cx="149.1" cy="193.35" r="1.3"/>
<circle cx="151.06" cy="197.3" r="1.3"/>
<circle cx="153.01" cy="199.82" r="1.3"/>
<circle cx="154.96" cy="200.66" r="1.3"/>
<circle cx="156.92" cy="197.3" r="1.3"/>
<circle cx="158.87" cy="198.98" r="1.3"/>
<circle cx="160.82" cy="200.66" r="1.3"/>
<circle cx="162.77" cy="190.58" r="1.3"/>
<circle cx="164.73" cy="187.22" r="1.3"/>
<circle cx="166.68" cy="197.3" r="1.3"/>
<circle cx="168.63" cy="190.58" r="1.3"/>
<circle cx="170.59" cy="187.22" r="1.3"/>
<circle cx="172.54" cy="196.46" r="1.3"/>
<circle cx="174.49" cy="198.98" r="1.3"/>
<circle cx="176.44" cy="200.66" r="1.3"/>
<circle cx="178.4" cy="192.26" r="1.3"/>
<circle cx="180.35" cy="197.3" r="1.3"/>
<circle cx="182.3" cy="200.66" r="1.3"/>
<circle cx="184.26" cy="197.3" r="1.3"/>
<circle cx="186.21" cy="198.98" r="1.3"/>
<circle cx="188.16" cy="199.82" r="1.3"/>
<circle cx="190.12" cy="196.46" r="1.3"/>
<circle cx="192.07" cy="198.14" r="1.3"/>
<circle cx="194.02" cy="200.66" r="1.3"/>
<circle cx="195.97" cy="181.34" r="1.3"/>
<circle cx="197.93" cy="199.82" r="1.3"/>
<circle cx="199.88" cy="196.46" r="1.3"/>
<circle cx="201.83" cy="198.98" r="1.3"/>
<circle cx="203.79" cy="199.82" r="1.3"/>
<circle cx="205.74" cy="195.62" r="1.3"/>
<circle cx="207.69" cy="199.82" r="1.3"/>
<circle cx="209.65" cy="194.78" r="1.3"/>
<circle cx="211.6" cy="190.58" r="1.3"/>
<circle cx="213.55" cy="196.46" r="1.3"/>
<circle cx="215.5" cy="200.66" r="1.3"/>
<circle cx="217.46" cy="198.14" r="1.3"/>
<circle cx="219.41" cy="192.51" r="1.3"/>
<circle cx="221.36" cy="197.3" r="1.3"/>
<circle cx="223.32" cy="190.58" r="1.3"/>
<circle cx="225.27" cy="198.14" r="1.3"/>
<circle cx="227.22" cy="200.66" r="1.3"/>
<circle cx="229.18" cy="196.46" r="1.3"/>
<circle cx="231.13" cy="198.14" r="1.3"/>
<circle cx="233.08" cy="198.98" r="1.3"/>
<circle cx="235.03" cy="199.82" r="1.3"/>
<circle cx="236.99" cy="184.7" r="1.3"/>
<circle cx="238.94" cy="198.14" r="1.3"/>
<circle cx="240.89" cy="199.82" r="1.3"/>
<circle cx="242.85" cy="196.46" r="1.3"/>
<circle cx="244.8" cy="198.14" r="1.3"/>
<circle cx="246.75" cy="190.16" r="1.3"/>
</g>
<rect x="49.5" y="117.5" width="204" height="84" fill="none" stroke="#9c9c9c" stroke-width="1.2"/>
<text x="49.5" y="214.2" font-size="10.5" text-anchor="middle" fill="#262626" >0</text>
<path d="M88.56 201.5v-3.2M88.56 117.5v3.2" stroke="#3a3a3a" stroke-width="0.8"/>
<text x="88.56" y="214.2" font-size="10.5" text-anchor="middle" fill="#262626" >20</text>
<path d="M127.62 201.5v-3.2M127.62 117.5v3.2" stroke="#3a3a3a" stroke-width="0.8"/>
<text x="127.62" y="214.2" font-size="10.5" text-anchor="middle" fill="#262626" >40</text>
<path d="M166.68 201.5v-3.2M166.68 117.5v3.2" stroke="#3a3a3a" stroke-width="0.8"/>
<text x="166.68" y="214.2" font-size="10.5" text-anchor="middle" fill="#262626" >60</text>
<path d="M205.74 201.5v-3.2M205.74 117.5v3.2" stroke="#3a3a3a" stroke-width="0.8"/>
<text x="205.74" y="214.2" font-size="10.5" text-anchor="middle" fill="#262626" >80</text>
<path d="M244.8 201.5v-3.2M244.8 117.5v3.2" stroke="#3a3a3a" stroke-width="0.8"/>
<text x="244.8" y="214.2" font-size="10.5" text-anchor="middle" fill="#262626" >100</text>
<text x="46.3" y="121.1" font-size="10.5" text-anchor="end" fill="#262626" >1</text>
<path d="M49.5 159.5h3.2M253.5 159.5h-3.2" stroke="#3a3a3a" stroke-width="0.8"/>
<text x="46.3" y="163.1" font-size="10.5" text-anchor="end" fill="#262626" >0.5</text>
<text x="46.3" y="205.1" font-size="10.5" text-anchor="end" fill="#262626" >0</text>
<text class="r" transform="translate(28.9 160.8) rotate(-90)" font-size="12.2" text-anchor="middle" fill="#262626">param/max(param)</text>
<rect x="256.9" y="122" width="68.6" height="70.2" fill="#fff" stroke="#999" stroke-width="1.1"/>
<path d="M261.2 132.5H293.7" stroke="#a9c9ea" stroke-width="1.1"/>
<circle cx="277.4" cy="132.5" r="1.25" fill="#a9c9ea" stroke="#2f7fc8" stroke-width="0.75"/>
<path d="M261.2 149.2H293.7" stroke="#f2b9a2" stroke-width="1.1"/>
<circle cx="277.4" cy="149.2" r="1.25" fill="#f2b9a2" stroke="#d65a24" stroke-width="0.75"/>
<path d="M261.2 165.6H293.7" stroke="#f5dc9e" stroke-width="1.1"/>
<circle cx="277.4" cy="165.6" r="1.25" fill="#f5dc9e" stroke="#e2aa22" stroke-width="0.75"/>
<path d="M261.2 182.2H293.7" stroke="#c7a0d0" stroke-width="1.1"/>
<circle cx="277.4" cy="182.2" r="1.25" fill="#c7a0d0" stroke="#8c48a0" stroke-width="0.75"/>
<text x="296.6" y="135.3" font-size="10.5" fill="#262626">g<tspan font-size="7.5" dy="3.4">om</tspan></text>
<text x="296.6" y="152.0" font-size="10.5" fill="#262626">g<tspan font-size="7.5" dy="3.4">sm</tspan></text>
<text x="296.6" y="169.0" font-size="10.5" fill="#262626">Q<tspan font-size="7.5" dy="3.4">opt</tspan></text>
<text x="296.6" y="186.0" font-size="10.5" fill="#262626">Q<tspan font-size="7.5" dy="3.4">mech</tspan></text>
<g fill="#0000ff">
<circle cx="51.45" cy="267.2" r="1.35"/>
<circle cx="53.41" cy="269" r="1.35"/>
<circle cx="55.36" cy="276.3" r="1.35"/>
<circle cx="57.31" cy="271.1" r="1.35"/>
<circle cx="59.27" cy="261.6" r="1.35"/>
<circle cx="61.22" cy="267.3" r="1.35"/>
<circle cx="63.17" cy="268.5" r="1.35"/>
<circle cx="65.12" cy="247.2" r="1.35"/>
<circle cx="67.08" cy="269" r="1.35"/>
<circle cx="69.03" cy="230.7" r="1.35"/>
<circle cx="70.98" cy="265.2" r="1.35"/>
<circle cx="72.94" cy="272.4" r="1.35"/>
<circle cx="74.89" cy="272.4" r="1.35"/>
<circle cx="76.84" cy="272.4" r="1.35"/>
<circle cx="78.8" cy="272.4" r="1.35"/>
<circle cx="80.75" cy="271.1" r="1.35"/>
<circle cx="82.7" cy="271.1" r="1.35"/>
<circle cx="84.65" cy="274.2" r="1.35"/>
<circle cx="86.61" cy="271.1" r="1.35"/>
<circle cx="88.56" cy="272.4" r="1.35"/>
<circle cx="90.51" cy="269.3" r="1.35"/>
<circle cx="92.47" cy="265.4" r="1.35"/>
<circle cx="94.42" cy="272.4" r="1.35"/>
<circle cx="96.37" cy="267.2" r="1.35"/>
<circle cx="98.33" cy="265.4" r="1.35"/>
<circle cx="100.28" cy="267.2" r="1.35"/>
<circle cx="102.23" cy="271.1" r="1.35"/>
<circle cx="104.18" cy="269" r="1.35"/>
<circle cx="106.14" cy="269" r="1.35"/>
<circle cx="108.09" cy="274.5" r="1.35"/>
<circle cx="110.04" cy="274.5" r="1.35"/>
<circle cx="112" cy="272.4" r="1.35"/>
<circle cx="113.95" cy="267.2" r="1.35"/>
<circle cx="115.9" cy="271.1" r="1.35"/>
<circle cx="117.86" cy="271.1" r="1.35"/>
<circle cx="119.81" cy="269" r="1.35"/>
<circle cx="121.76" cy="263.9" r="1.35"/>
<circle cx="123.71" cy="274.2" r="1.35"/>
<circle cx="125.67" cy="271.1" r="1.35"/>
<circle cx="127.62" cy="271.1" r="1.35"/>
<circle cx="129.57" cy="230.7" r="1.35"/>
<circle cx="131.53" cy="269" r="1.35"/>
<circle cx="133.48" cy="242" r="1.35"/>
<circle cx="135.43" cy="271.1" r="1.35"/>
<circle cx="137.38" cy="274.5" r="1.35"/>
<circle cx="139.34" cy="272.4" r="1.35"/>
<circle cx="141.29" cy="272.4" r="1.35"/>
<circle cx="143.24" cy="269" r="1.35"/>
<circle cx="145.2" cy="269" r="1.35"/>
<circle cx="147.15" cy="269" r="1.35"/>
<circle cx="149.1" cy="274.5" r="1.35"/>
<circle cx="151.06" cy="269" r="1.35"/>
<circle cx="153.01" cy="294.3" r="1.35"/>
<circle cx="154.96" cy="272.4" r="1.35"/>
<circle cx="156.92" cy="259.5" r="1.35"/>
<circle cx="158.87" cy="259.5" r="1.35"/>
<circle cx="160.82" cy="247.2" r="1.35"/>
<circle cx="162.77" cy="269" r="1.35"/>
<circle cx="164.73" cy="272.4" r="1.35"/>
<circle cx="166.68" cy="269" r="1.35"/>
<circle cx="168.63" cy="271.1" r="1.35"/>
<circle cx="170.59" cy="272.4" r="1.35"/>
<circle cx="172.54" cy="271.1" r="1.35"/>
<circle cx="174.49" cy="271.1" r="1.35"/>
<circle cx="176.44" cy="271.1" r="1.35"/>
<circle cx="178.4" cy="269" r="1.35"/>
<circle cx="180.35" cy="269" r="1.35"/>
<circle cx="182.3" cy="269" r="1.35"/>
<circle cx="184.26" cy="274.2" r="1.35"/>
<circle cx="186.21" cy="271.1" r="1.35"/>
<circle cx="188.16" cy="269" r="1.35"/>
<circle cx="190.12" cy="269" r="1.35"/>
<circle cx="192.07" cy="276.3" r="1.35"/>
<circle cx="194.02" cy="274.2" r="1.35"/>
<circle cx="195.97" cy="269" r="1.35"/>
<circle cx="197.93" cy="271.1" r="1.35"/>
<circle cx="199.88" cy="267.2" r="1.35"/>
<circle cx="201.83" cy="269" r="1.35"/>
<circle cx="203.79" cy="263.9" r="1.35"/>
<circle cx="205.74" cy="269" r="1.35"/>
<circle cx="207.69" cy="261.6" r="1.35"/>
<circle cx="209.65" cy="269" r="1.35"/>
<circle cx="211.6" cy="269" r="1.35"/>
<circle cx="213.55" cy="271.1" r="1.35"/>
<circle cx="215.5" cy="272.9" r="1.35"/>
<circle cx="217.46" cy="267.2" r="1.35"/>
<circle cx="219.41" cy="267.2" r="1.35"/>
<circle cx="221.36" cy="271.1" r="1.35"/>
<circle cx="223.32" cy="296.1" r="1.35"/>
<circle cx="225.27" cy="269" r="1.35"/>
<circle cx="227.22" cy="269" r="1.35"/>
<circle cx="229.18" cy="271.1" r="1.35"/>
<circle cx="231.13" cy="265.2" r="1.35"/>
<circle cx="233.08" cy="287.1" r="1.35"/>
<circle cx="235.03" cy="271.1" r="1.35"/>
<circle cx="236.99" cy="265.2" r="1.35"/>
<circle cx="238.94" cy="267.2" r="1.35"/>
<circle cx="240.89" cy="272.4" r="1.35"/>
<circle cx="242.85" cy="267.2" r="1.35"/>
<circle cx="244.8" cy="271.1" r="1.35"/>
<circle cx="246.75" cy="296.1" r="1.35"/>
</g>
<rect x="49.5" y="219.5" width="204" height="84" fill="none" stroke="#9c9c9c" stroke-width="1.2"/>
<text x="49.5" y="316" font-size="10.5" text-anchor="middle" fill="#262626" >0</text>
<path d="M88.56 303.5v-3.2M88.56 219.5v3.2" stroke="#3a3a3a" stroke-width="0.8"/>
<text x="88.56" y="316" font-size="10.5" text-anchor="middle" fill="#262626" >20</text>
<path d="M127.62 303.5v-3.2M127.62 219.5v3.2" stroke="#3a3a3a" stroke-width="0.8"/>
<text x="127.62" y="316" font-size="10.5" text-anchor="middle" fill="#262626" >40</text>
<path d="M166.68 303.5v-3.2M166.68 219.5v3.2" stroke="#3a3a3a" stroke-width="0.8"/>
<text x="166.68" y="316" font-size="10.5" text-anchor="middle" fill="#262626" >60</text>
<path d="M205.74 303.5v-3.2M205.74 219.5v3.2" stroke="#3a3a3a" stroke-width="0.8"/>
<text x="205.74" y="316" font-size="10.5" text-anchor="middle" fill="#262626" >80</text>
<path d="M244.8 303.5v-3.2M244.8 219.5v3.2" stroke="#3a3a3a" stroke-width="0.8"/>
<text x="244.8" y="316" font-size="10.5" text-anchor="middle" fill="#262626" >100</text>
<path d="M49.5 303.5h3.2M253.5 303.5h-3.2" stroke="#3a3a3a" stroke-width="0.8"/>
<text x="46.1" y="309.5" font-size="11.3" text-anchor="end" fill="#262626">10<tspan font-size="8" dy="-4.8">-9</tspan></text>
<path d="M49.5 272.6h3.2M253.5 272.6h-3.2" stroke="#3a3a3a" stroke-width="0.8"/>
<text x="46.1" y="278.6" font-size="11.3" text-anchor="end" fill="#262626">10<tspan font-size="8" dy="-4.8">-8</tspan></text>
<path d="M49.5 241.7h3.2M253.5 241.7h-3.2" stroke="#3a3a3a" stroke-width="0.8"/>
<text x="46.1" y="247.7" font-size="11.3" text-anchor="end" fill="#262626">10<tspan font-size="8" dy="-4.8">-7</tspan></text>
<path d="M49.5 294.2h1.5M253.5 294.2h-1.5" stroke="#444" stroke-width="0.8"/>
<path d="M49.5 288.76h1.5M253.5 288.76h-1.5" stroke="#444" stroke-width="0.8"/>
<path d="M49.5 284.9h1.5M253.5 284.9h-1.5" stroke="#444" stroke-width="0.8"/>
<path d="M49.5 281.9h1.5M253.5 281.9h-1.5" stroke="#444" stroke-width="0.8"/>
<path d="M49.5 279.46h1.5M253.5 279.46h-1.5" stroke="#444" stroke-width="0.8"/>
<path d="M49.5 277.39h1.5M253.5 277.39h-1.5" stroke="#444" stroke-width="0.8"/>
<path d="M49.5 275.59h1.5M253.5 275.59h-1.5" stroke="#444" stroke-width="0.8"/>
<path d="M49.5 274.01h1.5M253.5 274.01h-1.5" stroke="#444" stroke-width="0.8"/>
<path d="M49.5 263.3h1.5M253.5 263.3h-1.5" stroke="#444" stroke-width="0.8"/>
<path d="M49.5 257.86h1.5M253.5 257.86h-1.5" stroke="#444" stroke-width="0.8"/>
<path d="M49.5 254h1.5M253.5 254h-1.5" stroke="#444" stroke-width="0.8"/>
<path d="M49.5 251h1.5M253.5 251h-1.5" stroke="#444" stroke-width="0.8"/>
<path d="M49.5 248.56h1.5M253.5 248.56h-1.5" stroke="#444" stroke-width="0.8"/>
<path d="M49.5 246.49h1.5M253.5 246.49h-1.5" stroke="#444" stroke-width="0.8"/>
<path d="M49.5 244.69h1.5M253.5 244.69h-1.5" stroke="#444" stroke-width="0.8"/>
<path d="M49.5 243.11h1.5M253.5 243.11h-1.5" stroke="#444" stroke-width="0.8"/>
<path d="M49.5 232.4h1.5M253.5 232.4h-1.5" stroke="#444" stroke-width="0.8"/>
<path d="M49.5 226.96h1.5M253.5 226.96h-1.5" stroke="#444" stroke-width="0.8"/>
<path d="M49.5 223.1h1.5M253.5 223.1h-1.5" stroke="#444" stroke-width="0.8"/>
<path d="M49.5 220.1h1.5M253.5 220.1h-1.5" stroke="#444" stroke-width="0.8"/>
<text x="147.5" y="328.8" font-size="12.2" text-anchor="middle" fill="#262626">Iteration</text>
<text class="r" transform="translate(18.8 262) rotate(-90)" font-size="12.2" text-anchor="middle" fill="#262626">T<tspan font-size="10" dy="3.6">pump</tspan><tspan dy="-3.6"> (s)</tspan></text>
<text x="0.8" y="13.4" font-size="17" font-weight="bold" fill="#000">a)</text>
<text x="0.8" y="114.6" font-size="17" font-weight="bold" fill="#000">b)</text>
<text x="0.8" y="222" font-size="17" font-weight="bold" fill="#000">c)</text>
<text x="331.5" y="12.7" font-size="17" font-weight="bold" fill="#000">d)</text>
<defs><linearGradient id="g0" x1="0" x2="1" y1="0" y2="0"><stop offset="0" stop-color="#ecf03a"/><stop offset="0" stop-color="#ddf034"/><stop offset="0.01" stop-color="#cfef31"/><stop offset="0.01" stop-color="#bfee38"/><stop offset="0.02" stop-color="#b1ed40"/><stop offset="0.02" stop-color="#a6eb49"/><stop offset="0.02" stop-color="#99e853"/><stop offset="0.03" stop-color="#90e65a"/><stop offset="0.03" stop-color="#86e262"/><stop offset="0.04" stop-color="#7edf68"/><stop offset="0.04" stop-color="#77dc6e"/><stop offset="0.04" stop-color="#70d973"/><stop offset="0.05" stop-color="#6ad577"/><stop offset="0.05" stop-color="#65d17a"/><stop offset="0.06" stop-color="#5fcd7e"/><stop offset="0.06" stop-color="#5cca80"/><stop offset="0.07" stop-color="#58c683"/><stop offset="0.07" stop-color="#55c285"/><stop offset="0.07" stop-color="#54be86"/><stop offset="0.08" stop-color="#53bb87"/><stop offset="0.08" stop-color="#52b889"/><stop offset="0.09" stop-color="#52b58a"/><stop offset="0.09" stop-color="#50b28a"/><stop offset="0.09" stop-color="#4eae8b"/><stop offset="0.1" stop-color="#4cac8b"/><stop offset="0.1" stop-color="#4ba98b"/><stop offset="0.11" stop-color="#4aa78c"/><stop offset="0.11" stop-color="#49a38c"/><stop offset="0.11" stop-color="#48a18c"/><stop offset="0.12" stop-color="#489f8c"/><stop offset="0.12" stop-color="#479d8c"/><stop offset="0.13" stop-color="#469a8b"/><stop offset="0.13" stop-color="#46988b"/><stop offset="0.13" stop-color="#46968b"/><stop offset="0.14" stop-color="#45948b"/><stop offset="0.14" stop-color="#45928b"/><stop offset="0.15" stop-color="#44908a"/><stop offset="0.15" stop-color="#448e8a"/><stop offset="0.15" stop-color="#448c8a"/><stop offset="0.16" stop-color="#448b8a"/><stop offset="0.16" stop-color="#44898a"/><stop offset="0.17" stop-color="#43868b"/><stop offset="0.18" stop-color="#43838b"/><stop offset="0.19" stop-color="#43808b"/><stop offset="0.2" stop-color="#427e8b"/><stop offset="0.2" stop-color="#427b8c"/><stop offset="0.21" stop-color="#42788c"/><stop offset="0.22" stop-color="#42768c"/><stop offset="0.23" stop-color="#42748c"/><stop offset="0.24" stop-color="#41728c"/><stop offset="0.24" stop-color="#416f8c"/><stop offset="0.25" stop-color="#416e8c"/><stop offset="0.26" stop-color="#416c8c"/><stop offset="0.27" stop-color="#416a8c"/><stop offset="0.28" stop-color="#41698c"/><stop offset="0.29" stop-color="#41668c"/><stop offset="0.29" stop-color="#41658c"/><stop offset="0.3" stop-color="#41648c"/><stop offset="0.31" stop-color="#41628c"/><stop offset="0.32" stop-color="#41618c"/><stop offset="0.33" stop-color="#41608b"/><stop offset="0.33" stop-color="#415f8b"/><stop offset="0.34" stop-color="#415d8b"/><stop offset="0.35" stop-color="#425b8b"/><stop offset="0.36" stop-color="#425a8b"/><stop offset="0.37" stop-color="#42598a"/><stop offset="0.37" stop-color="#42588a"/><stop offset="0.38" stop-color="#42588a"/><stop offset="0.39" stop-color="#42578a"/><stop offset="0.4" stop-color="#42568a"/><stop offset="0.41" stop-color="#43558a"/><stop offset="0.42" stop-color="#435389"/><stop offset="0.43" stop-color="#435189"/><stop offset="0.44" stop-color="#435088"/><stop offset="0.46" stop-color="#434f88"/><stop offset="0.47" stop-color="#434e88"/><stop offset="0.48" stop-color="#434c87"/><stop offset="0.49" stop-color="#444b87"/><stop offset="0.51" stop-color="#444a87"/><stop offset="0.52" stop-color="#434a87"/><stop offset="0.53" stop-color="#434986"/><stop offset="0.54" stop-color="#444886"/><stop offset="0.55" stop-color="#444685"/><stop offset="0.57" stop-color="#444585"/><stop offset="0.58" stop-color="#444585"/><stop offset="0.59" stop-color="#444485"/><stop offset="0.6" stop-color="#444384"/><stop offset="0.62" stop-color="#444384"/><stop offset="0.63" stop-color="#444184"/><stop offset="0.64" stop-color="#444083"/><stop offset="0.65" stop-color="#444083"/><stop offset="0.66" stop-color="#443f82"/><stop offset="0.68" stop-color="#443f82"/><stop offset="0.69" stop-color="#443e82"/><stop offset="0.7" stop-color="#443e82"/><stop offset="0.71" stop-color="#443c81"/><stop offset="0.73" stop-color="#443c81"/><stop offset="0.74" stop-color="#443b81"/><stop offset="0.75" stop-color="#443b81"/><stop offset="0.76" stop-color="#443a80"/><stop offset="0.77" stop-color="#443a80"/><stop offset="0.79" stop-color="#44397f"/><stop offset="0.8" stop-color="#443980"/><stop offset="0.81" stop-color="#45387f"/><stop offset="0.82" stop-color="#45387f"/><stop offset="0.84" stop-color="#45387f"/><stop offset="0.85" stop-color="#45377e"/><stop offset="0.86" stop-color="#45377e"/><stop offset="0.87" stop-color="#45377e"/><stop offset="0.88" stop-color="#45357e"/><stop offset="0.9" stop-color="#45357e"/><stop offset="0.91" stop-color="#45357e"/><stop offset="0.92" stop-color="#46347d"/><stop offset="0.93" stop-color="#46347d"/><stop offset="0.95" stop-color="#46347d"/><stop offset="0.96" stop-color="#46337c"/><stop offset="0.97" stop-color="#46337c"/><stop offset="0.98" stop-color="#46337c"/><stop offset="0.99" stop-color="#46327c"/><stop offset="1" stop-color="#46327c"/></linearGradient><linearGradient id="g1" x1="0" x2="1" y1="0" y2="0"><stop offset="0" stop-color="#cfef31"/><stop offset="0" stop-color="#bdee39"/><stop offset="0.01" stop-color="#adec43"/><stop offset="0.01" stop-color="#a0ea4d"/><stop offset="0.02" stop-color="#94e758"/><stop offset="0.02" stop-color="#87e361"/><stop offset="0.02" stop-color="#7edf68"/><stop offset="0.03" stop-color="#75dc6f"/><stop offset="0.03" stop-color="#6fd874"/><stop offset="0.04" stop-color="#66d379"/><stop offset="0.04" stop-color="#60ce7d"/><stop offset="0.04" stop-color="#5cca80"/><stop offset="0.05" stop-color="#57c583"/><stop offset="0.05" stop-color="#55c085"/><stop offset="0.06" stop-color="#53bc87"/><stop offset="0.06" stop-color="#52b889"/><stop offset="0.07" stop-color="#52b48a"/><stop offset="0.07" stop-color="#4fb18a"/><stop offset="0.07" stop-color="#4dac8b"/><stop offset="0.08" stop-color="#4ba98b"/><stop offset="0.08" stop-color="#4aa68c"/><stop offset="0.09" stop-color="#49a28c"/><stop offset="0.09" stop-color="#489f8c"/><stop offset="0.09" stop-color="#479d8c"/><stop offset="0.1" stop-color="#46998b"/><stop offset="0.1" stop-color="#46978b"/><stop offset="0.11" stop-color="#45948b"/><stop offset="0.11" stop-color="#45918b"/><stop offset="0.11" stop-color="#448f8a"/><stop offset="0.12" stop-color="#448c8a"/><stop offset="0.12" stop-color="#448a8a"/><stop offset="0.13" stop-color="#43888b"/><stop offset="0.13" stop-color="#43858b"/><stop offset="0.13" stop-color="#43838b"/><stop offset="0.14" stop-color="#42828b"/><stop offset="0.14" stop-color="#42808b"/><stop offset="0.15" stop-color="#427e8b"/><stop offset="0.15" stop-color="#427c8b"/><stop offset="0.15" stop-color="#427a8c"/><stop offset="0.16" stop-color="#42788c"/><stop offset="0.16" stop-color="#42778c"/><stop offset="0.17" stop-color="#41748c"/><stop offset="0.18" stop-color="#41718c"/><stop offset="0.19" stop-color="#416d8c"/><stop offset="0.2" stop-color="#416b8c"/><stop offset="0.2" stop-color="#41698c"/><stop offset="0.21" stop-color="#41658c"/><stop offset="0.22" stop-color="#41638c"/><stop offset="0.23" stop-color="#41618c"/><stop offset="0.24" stop-color="#425f8b"/><stop offset="0.24" stop-color="#415d8b"/><stop offset="0.25" stop-color="#425b8b"/><stop offset="0.26" stop-color="#42598a"/><stop offset="0.27" stop-color="#42588a"/><stop offset="0.28" stop-color="#42568a"/><stop offset="0.29" stop-color="#42548a"/><stop offset="0.29" stop-color="#435289"/><stop offset="0.3" stop-color="#435189"/><stop offset="0.31" stop-color="#434f88"/><stop offset="0.32" stop-color="#434e88"/><stop offset="0.33" stop-color="#434c87"/><stop offset="0.33" stop-color="#434b87"/><stop offset="0.34" stop-color="#434a87"/><stop offset="0.35" stop-color="#434986"/><stop offset="0.36" stop-color="#444886"/><stop offset="0.37" stop-color="#444685"/><stop offset="0.37" stop-color="#444585"/><stop offset="0.38" stop-color="#444485"/><stop offset="0.39" stop-color="#444384"/><stop offset="0.4" stop-color="#444184"/><stop offset="0.41" stop-color="#444083"/><stop offset="0.42" stop-color="#443f82"/><stop offset="0.43" stop-color="#443e82"/><stop offset="0.44" stop-color="#443b81"/><stop offset="0.46" stop-color="#443a80"/><stop offset="0.47" stop-color="#44397f"/><stop offset="0.48" stop-color="#45387f"/><stop offset="0.49" stop-color="#45377e"/><stop offset="0.51" stop-color="#45377e"/><stop offset="0.52" stop-color="#45357e"/><stop offset="0.53" stop-color="#46347d"/><stop offset="0.54" stop-color="#46337c"/><stop offset="0.55" stop-color="#46327c"/><stop offset="0.57" stop-color="#46317b"/><stop offset="0.58" stop-color="#46317b"/><stop offset="0.59" stop-color="#47307a"/><stop offset="0.6" stop-color="#472e79"/><stop offset="0.62" stop-color="#472e79"/><stop offset="0.63" stop-color="#472d78"/><stop offset="0.64" stop-color="#472c78"/><stop offset="0.65" stop-color="#472c78"/><stop offset="0.66" stop-color="#472b77"/><stop offset="0.68" stop-color="#472b77"/><stop offset="0.69" stop-color="#472a76"/><stop offset="0.7" stop-color="#472a76"/><stop offset="0.71" stop-color="#482875"/><stop offset="0.73" stop-color="#482875"/><stop offset="0.74" stop-color="#482774"/><stop offset="0.75" stop-color="#482774"/><stop offset="0.76" stop-color="#482673"/><stop offset="0.77" stop-color="#482673"/><stop offset="0.79" stop-color="#482572"/><stop offset="0.8" stop-color="#482572"/><stop offset="0.81" stop-color="#482572"/><stop offset="0.82" stop-color="#482471"/><stop offset="0.84" stop-color="#482471"/><stop offset="0.85" stop-color="#482270"/><stop offset="0.86" stop-color="#482270"/><stop offset="0.87" stop-color="#482270"/><stop offset="0.88" stop-color="#48216f"/><stop offset="0.9" stop-color="#48216f"/><stop offset="0.91" stop-color="#48216f"/><stop offset="0.92" stop-color="#48206e"/><stop offset="0.93" stop-color="#48206e"/><stop offset="0.95" stop-color="#48206e"/><stop offset="0.96" stop-color="#481f6d"/><stop offset="0.97" stop-color="#481f6d"/><stop offset="0.98" stop-color="#481f6d"/><stop offset="0.99" stop-color="#481f6d"/><stop offset="1" stop-color="#481d6c"/></linearGradient><linearGradient id="g2" x1="0" x2="1" y1="0" y2="0"><stop offset="0" stop-color="#b0ec41"/><stop offset="0" stop-color="#9ee94f"/><stop offset="0.01" stop-color="#90e65a"/><stop offset="0.01" stop-color="#82e165"/><stop offset="0.02" stop-color="#78dd6d"/><stop offset="0.02" stop-color="#70d973"/><stop offset="0.02" stop-color="#66d379"/><stop offset="0.03" stop-color="#60ce7d"/><stop offset="0.03" stop-color="#5ac881"/><stop offset="0.04" stop-color="#56c384"/><stop offset="0.04" stop-color="#54bd87"/><stop offset="0.04" stop-color="#52b889"/><stop offset="0.05" stop-color="#51b48a"/><stop offset="0.05" stop-color="#4eae8b"/><stop offset="0.06" stop-color="#4baa8b"/><stop offset="0.06" stop-color="#4aa68c"/><stop offset="0.07" stop-color="#48a28c"/><stop offset="0.07" stop-color="#479e8c"/><stop offset="0.07" stop-color="#469a8b"/><stop offset="0.08" stop-color="#46978b"/><stop offset="0.08" stop-color="#45948b"/><stop offset="0.09" stop-color="#44908a"/><stop offset="0.09" stop-color="#448d8a"/><stop offset="0.09" stop-color="#448a8a"/><stop offset="0.1" stop-color="#43878b"/><stop offset="0.1" stop-color="#43848b"/><stop offset="0.11" stop-color="#43818b"/><stop offset="0.11" stop-color="#427f8b"/><stop offset="0.11" stop-color="#427d8b"/><stop offset="0.12" stop-color="#427a8c"/><stop offset="0.12" stop-color="#42788c"/><stop offset="0.13" stop-color="#42758c"/><stop offset="0.13" stop-color="#41748c"/><stop offset="0.13" stop-color="#41728c"/><stop offset="0.14" stop-color="#416f8c"/><stop offset="0.14" stop-color="#416d8c"/><stop offset="0.15" stop-color="#416b8c"/><stop offset="0.15" stop-color="#416a8c"/><stop offset="0.15" stop-color="#41678c"/><stop offset="0.16" stop-color="#41658c"/><stop offset="0.16" stop-color="#41648c"/><stop offset="0.17" stop-color="#41618c"/><stop offset="0.18" stop-color="#425d8b"/><stop offset="0.19" stop-color="#425b8b"/><stop offset="0.2" stop-color="#42588a"/><stop offset="0.2" stop-color="#42568a"/><stop offset="0.21" stop-color="#435389"/><stop offset="0.22" stop-color="#435189"/><stop offset="0.23" stop-color="#434e88"/><stop offset="0.24" stop-color="#434c87"/><stop offset="0.24" stop-color="#434a87"/><stop offset="0.25" stop-color="#444886"/><stop offset="0.26" stop-color="#444585"/><stop offset="0.27" stop-color="#444485"/><stop offset="0.28" stop-color="#444184"/><stop offset="0.29" stop-color="#444083"/><stop offset="0.29" stop-color="#443e82"/><stop offset="0.3" stop-color="#443c81"/><stop offset="0.31" stop-color="#443b81"/><stop offset="0.32" stop-color="#44397f"/><stop offset="0.33" stop-color="#45387f"/><stop offset="0.33" stop-color="#45377e"/><stop offset="0.34" stop-color="#45357e"/><stop offset="0.35" stop-color="#46347d"/><stop offset="0.36" stop-color="#46337c"/><stop offset="0.37" stop-color="#46327c"/><stop offset="0.37" stop-color="#46317b"/><stop offset="0.38" stop-color="#47307a"/><stop offset="0.39" stop-color="#472e79"/><stop offset="0.4" stop-color="#472d78"/><stop offset="0.41" stop-color="#472c78"/><stop offset="0.42" stop-color="#472b77"/><stop offset="0.43" stop-color="#472a76"/><stop offset="0.44" stop-color="#482875"/><stop offset="0.46" stop-color="#482774"/><stop offset="0.47" stop-color="#482673"/><stop offset="0.48" stop-color="#482572"/><stop offset="0.49" stop-color="#482471"/><stop offset="0.51" stop-color="#482270"/><stop offset="0.52" stop-color="#48216f"/><stop offset="0.53" stop-color="#48206e"/><stop offset="0.54" stop-color="#481f6d"/><stop offset="0.55" stop-color="#481d6c"/><stop offset="0.57" stop-color="#481d6c"/><stop offset="0.58" stop-color="#481c6b"/><stop offset="0.59" stop-color="#481b69"/><stop offset="0.6" stop-color="#481968"/><stop offset="0.62" stop-color="#481a68"/><stop offset="0.63" stop-color="#471867"/><stop offset="0.64" stop-color="#471867"/><stop offset="0.65" stop-color="#471766"/><stop offset="0.66" stop-color="#471564"/><stop offset="0.68" stop-color="#471565"/><stop offset="0.69" stop-color="#471463"/><stop offset="0.7" stop-color="#471463"/><stop offset="0.71" stop-color="#471362"/><stop offset="0.73" stop-color="#471362"/><stop offset="0.74" stop-color="#461161"/><stop offset="0.75" stop-color="#461161"/><stop offset="0.76" stop-color="#460f5f"/><stop offset="0.77" stop-color="#46105f"/><stop offset="0.79" stop-color="#460e5e"/><stop offset="0.8" stop-color="#460e5e"/><stop offset="0.81" stop-color="#460e5e"/><stop offset="0.82" stop-color="#460d5d"/><stop offset="0.84" stop-color="#460d5d"/><stop offset="0.85" stop-color="#460d5d"/><stop offset="0.86" stop-color="#450b5c"/><stop offset="0.87" stop-color="#450b5c"/><stop offset="0.88" stop-color="#450a5b"/><stop offset="0.9" stop-color="#450a5b"/><stop offset="0.91" stop-color="#450a5c"/><stop offset="0.92" stop-color="#44095a"/><stop offset="0.93" stop-color="#44095a"/><stop offset="0.95" stop-color="#44095b"/><stop offset="0.96" stop-color="#44095b"/><stop offset="0.97" stop-color="#44085a"/><stop offset="0.98" stop-color="#44085a"/><stop offset="0.99" stop-color="#44085a"/><stop offset="1" stop-color="#44085a"/></linearGradient><linearGradient id="mg1" gradientUnits="userSpaceOnUse" x1="0" x2="0" y1="21" y2="163.25"><stop offset="0" stop-color="#fff" stop-opacity="0"/><stop offset="1" stop-color="#fff" stop-opacity="1"/></linearGradient><mask id="mk1" maskUnits="userSpaceOnUse" x="373.5" y="20" width="247.5" height="286.5" style="mask-type:alpha"><rect x="373.5" y="20" width="247.5" height="286.5" fill="url(#mg1)"/></mask><linearGradient id="mg2" gradientUnits="userSpaceOnUse" x1="0" x2="0" y1="163.25" y2="305.5"><stop offset="0" stop-color="#fff" stop-opacity="0"/><stop offset="1" stop-color="#fff" stop-opacity="1"/></linearGradient><mask id="mk2" maskUnits="userSpaceOnUse" x="373.5" y="20" width="247.5" height="286.5" style="mask-type:alpha"><rect x="373.5" y="20" width="247.5" height="286.5" fill="url(#mg2)"/></mask><linearGradient id="cb" x1="0" x2="0" y1="1" y2="0"><stop offset="0" stop-color="#44085a"/><stop offset="0.03" stop-color="#471362"/><stop offset="0.06" stop-color="#481d6c"/><stop offset="0.09" stop-color="#482774"/><stop offset="0.12" stop-color="#46317b"/><stop offset="0.16" stop-color="#443a80"/><stop offset="0.19" stop-color="#444485"/><stop offset="0.22" stop-color="#434e88"/><stop offset="0.25" stop-color="#42578a"/><stop offset="0.28" stop-color="#41608b"/><stop offset="0.31" stop-color="#41698c"/><stop offset="0.34" stop-color="#41728c"/><stop offset="0.38" stop-color="#427a8c"/><stop offset="0.41" stop-color="#43838b"/><stop offset="0.44" stop-color="#448c8a"/><stop offset="0.47" stop-color="#45958b"/><stop offset="0.5" stop-color="#479e8c"/><stop offset="0.53" stop-color="#4aa78b"/><stop offset="0.56" stop-color="#4eaf8b"/><stop offset="0.59" stop-color="#52b889"/><stop offset="0.62" stop-color="#55c085"/><stop offset="0.66" stop-color="#5bc981"/><stop offset="0.69" stop-color="#64d07b"/><stop offset="0.72" stop-color="#6fd874"/><stop offset="0.75" stop-color="#7ade6c"/><stop offset="0.78" stop-color="#86e262"/><stop offset="0.81" stop-color="#94e758"/><stop offset="0.84" stop-color="#a3ea4c"/><stop offset="0.88" stop-color="#b2ed40"/><stop offset="0.91" stop-color="#c1ee36"/><stop offset="0.94" stop-color="#d1ef30"/><stop offset="0.97" stop-color="#e0f035"/><stop offset="1" stop-color="#ecf03a"/></linearGradient><clipPath id="dclip"><rect x="374.5" y="21" width="245.5" height="284.5"/></clipPath></defs>
<rect x="374.5" y="21" width="245.5" height="284.5" fill="url(#g0)"/>
<rect x="374.5" y="21" width="245.5" height="284.5" fill="url(#g1)" mask="url(#mk1)"/>
<rect x="374.5" y="21" width="245.5" height="284.5" fill="url(#g2)" mask="url(#mk2)"/>
<g clip-path="url(#dclip)" fill="none" stroke="#d62146" stroke-width="0.95">
<path d="M432.4 305.5 L433.01 300.76 L433.62 296.02 L434.25 291.27 L434.88 286.53 L435.53 281.79 L436.18 277.05 L436.84 272.31 L437.51 267.57 L438.2 262.82 L438.89 258.08 L439.59 253.34 L440.31 248.6 L441.04 243.86 L441.77 239.12 L442.52 234.38 L443.28 229.63 L444.06 224.89 L444.84 220.15 L445.64 215.41 L446.45 210.67 L447.28 205.93 L448.12 201.18 L448.97 196.44 L449.84 191.7 L450.72 186.96 L451.62 182.22 L452.53 177.47 L453.46 172.73 L454.41 167.99 L455.37 163.25 L456.35 158.51 L457.35 153.77 L458.37 149.03 L459.41 144.28 L460.46 139.54 L461.54 134.8 L462.64 130.06 L463.76 125.32 L464.9 120.57 L466.06 115.83 L467.24 111.09 L468.45 106.35 L469.69 101.61 L470.95 96.87 L472.23 92.12 L473.55 87.38 L474.89 82.64 L476.26 77.9 L477.65 73.16 L479.08 68.42 L480.55 63.68 L482.04 58.93 L483.57 54.19 L485.13 49.45 L486.73 44.71 L488.37 39.97 L490.04 35.23 L491.76 30.48 L493.52 25.74 L495.32 21"/>
<path d="M435.5 305.5 L436.15 300.76 L436.81 296.02 L437.49 291.27 L438.17 286.53 L438.86 281.79 L439.57 277.05 L440.28 272.31 L441.01 267.57 L441.74 262.82 L442.49 258.08 L443.25 253.34 L444.02 248.6 L444.81 243.86 L445.61 239.12 L446.42 234.38 L447.24 229.63 L448.08 224.89 L448.94 220.15 L449.8 215.41 L450.69 210.67 L451.58 205.93 L452.5 201.18 L453.43 196.44 L454.37 191.7 L455.33 186.96 L456.31 182.22 L457.31 177.47 L458.33 172.73 L459.37 167.99 L460.42 163.25 L461.5 158.51 L462.59 153.77 L463.71 149.03 L464.85 144.28 L466.01 139.54 L467.19 134.8 L468.4 130.06 L469.64 125.32 L470.9 120.57 L472.18 115.83 L473.49 111.09 L474.83 106.35 L476.2 101.61 L477.6 96.87 L479.03 92.12 L480.49 87.38 L481.98 82.64 L483.5 77.9 L485.07 73.16 L486.66 68.42 L488.3 63.68 L489.97 58.93 L491.69 54.19 L493.44 49.45 L495.24 44.71 L497.09 39.97 L498.98 35.23 L500.92 30.48 L502.91 25.74 L504.95 21"/>
<path d="M464.4 305.5 L465.55 300.76 L466.73 296.02 L467.93 291.27 L469.15 286.53 L470.4 281.79 L471.67 277.05 L472.97 272.31 L474.3 267.57 L475.66 262.82 L477.05 258.08 L478.46 253.34 L479.91 248.6 L481.39 243.86 L482.9 239.12 L484.45 234.38 L486.03 229.63 L487.65 224.89 L489.31 220.15 L491.01 215.41 L492.75 210.67 L494.53 205.93 L496.36 201.18 L498.23 196.44 L500.15 191.7 L502.12 186.96 L504.14 182.22 L506.22 177.47 L508.35 172.73 L510.53 167.99 L512.78 163.25 L515.09 158.51 L517.47 153.77 L519.91 149.03 L522.43 144.28 L525.01 139.54 L527.68 134.8 L530.43 130.06 L533.26 125.32 L536.19 120.57 L539.2 115.83 L542.32 111.09 L545.53 106.35 L548.86 101.61 L552.29 96.87 L555.85 92.12 L559.53 87.38 L563.35 82.64 L567.3 77.9 L571.4 73.16 L575.66 68.42 L580.08 63.68 L584.68 58.93 L589.46 54.19 L594.44 49.45 L599.62 44.71 L605.03 39.97 L610.68 35.23 L616.58 30.48 L622.75 25.74 L629.21 21"/>
<path d="M469.6 305.5 L470.86 300.76 L472.14 296.02 L473.45 291.27 L474.79 286.53 L476.16 281.79 L477.56 277.05 L478.98 272.31 L480.44 267.57 L481.93 262.82 L483.46 258.08 L485.02 253.34 L486.62 248.6 L488.25 243.86 L489.92 239.12 L491.64 234.38 L493.39 229.63 L495.19 224.89 L497.03 220.15 L498.92 215.41 L500.86 210.67 L502.85 205.93 L504.89 201.18 L506.98 196.44 L509.13 191.7 L511.34 186.96 L513.61 182.22 L515.94 177.47 L518.34 172.73 L520.81 167.99 L523.35 163.25 L525.97 158.51 L528.67 153.77 L531.45 149.03 L534.31 144.28 L537.27 139.54 L540.32 134.8 L543.47 130.06 L546.72 125.32 L550.09 120.57 L553.57 115.83 L557.17 111.09 L560.9 106.35 L564.76 101.61 L568.77 96.87 L572.92 92.12 L577.24 87.38 L581.72 82.64 L586.39 77.9 L591.24 73.16 L596.29 68.42 L601.56 63.68 L607.05 58.93 L612.79 54.19 L618.78 49.45 L625.05 44.71"/>
<path d="M475.3 305.5 L476.68 300.76 L478.09 296.02 L479.53 291.27 L481 286.53 L482.5 281.79 L484.04 277.05 L485.61 272.31 L487.22 267.57 L488.87 262.82 L490.56 258.08 L492.29 253.34 L494.06 248.6 L495.88 243.86 L497.74 239.12 L499.64 234.38 L501.6 229.63 L503.61 224.89 L505.66 220.15 L507.78 215.41 L509.95 210.67 L512.18 205.93 L514.48 201.18 L516.83 196.44 L519.26 191.7 L521.76 186.96 L524.33 182.22 L526.97 177.47 L529.7 172.73 L532.51 167.99 L535.41 163.25 L538.4 158.51 L541.49 153.77 L544.68 149.03 L547.97 144.28 L551.38 139.54 L554.9 134.8 L558.55 130.06 L562.33 125.32 L566.25 120.57 L570.31 115.83 L574.52 111.09 L578.9 106.35 L583.45 101.61 L588.18 96.87 L593.11 92.12 L598.24 87.38 L603.59 82.64 L609.17 77.9 L615 73.16 L621.1 68.42 L627.48 63.68"/>
<path d="M484.6 305.5 L486.19 300.76 L487.81 296.02 L489.47 291.27 L491.18 286.53 L492.92 281.79 L494.71 277.05 L496.54 272.31 L498.41 267.57 L500.34 262.82 L502.31 258.08 L504.34 253.34 L506.42 248.6 L508.55 243.86 L510.74 239.12 L513 234.38 L515.31 229.63 L517.7 224.89 L520.15 220.15 L522.67 215.41 L525.27 210.67 L527.94 205.93 L530.7 201.18 L533.54 196.44 L536.47 191.7 L539.49 186.96 L542.62 182.22 L545.84 177.47 L549.18 172.73 L552.63 167.99 L556.19 163.25 L559.89 158.51 L563.72 153.77 L567.68 149.03 L571.8 144.28 L576.07 139.54 L580.51 134.8 L585.12 130.06 L589.92 125.32 L594.92 120.57 L600.13 115.83 L605.56 111.09 L611.23 106.35 L617.15 101.61 L623.35 96.87 L629.84 92.12"/>
<path d="M486.6 305.5 L488.23 300.76 L489.91 296.02 L491.62 291.27 L493.37 286.53 L495.17 281.79 L497.01 277.05 L498.9 272.31 L500.84 267.57 L502.83 262.82 L504.87 258.08 L506.96 253.34 L509.11 248.6 L511.32 243.86 L513.59 239.12 L515.92 234.38 L518.32 229.63 L520.79 224.89 L523.33 220.15 L525.94 215.41 L528.64 210.67 L531.42 205.93 L534.28 201.18 L537.24 196.44 L540.29 191.7 L543.43 186.96 L546.69 182.22 L550.05 177.47 L553.53 172.73 L557.13 167.99 L560.86 163.25 L564.72 158.51 L568.72 153.77 L572.88 149.03 L577.19 144.28 L581.68 139.54 L586.34 134.8 L591.19 130.06 L596.24 125.32 L601.5 120.57 L606.99 115.83 L612.72 111.09 L618.72 106.35 L624.98 101.61 L631.55 96.87"/>
<path d="M503.6 305.5 L505.66 300.76 L507.77 296.02 L509.95 291.27 L512.18 286.53 L514.47 281.79 L516.83 277.05 L519.25 272.31 L521.75 267.57 L524.32 262.82 L526.97 258.08 L529.69 253.34 L532.5 248.6 L535.4 243.86 L538.39 239.12 L541.48 234.38 L544.67 229.63 L547.96 224.89 L551.37 220.15 L554.89 215.41 L558.54 210.67 L562.32 205.93 L566.24 201.18 L570.3 196.44 L574.51 191.7 L578.89 186.96 L583.44 182.22 L588.17 177.47 L593.09 172.73 L598.22 167.99 L603.57 163.25 L609.16 158.51 L614.99 153.77 L621.08 149.03 L627.46 144.28"/>
<path d="M504.6 305.5 L506.69 300.76 L508.83 296.02 L511.03 291.27 L513.29 286.53 L515.62 281.79 L518.01 277.05 L520.47 272.31 L523 267.57 L525.6 262.82 L528.29 258.08 L531.06 253.34 L533.91 248.6 L536.85 243.86 L539.89 239.12 L543.02 234.38 L546.26 229.63 L549.61 224.89 L553.08 220.15 L556.66 215.41 L560.37 210.67 L564.22 205.93 L568.2 201.18 L572.34 196.44 L576.63 191.7 L581.09 186.96 L585.73 182.22 L590.55 177.47 L595.58 172.73 L600.81 167.99 L606.27 163.25 L611.97 158.51 L617.93 153.77 L624.16 149.03 L630.69 144.28"/>
<path d="M512.4 305.5 L514.7 300.76 L517.06 296.02 L519.5 291.27 L522 286.53 L524.58 281.79 L527.23 277.05 L529.96 272.31 L532.78 267.57 L535.69 262.82 L538.69 258.08 L541.79 253.34 L544.99 248.6 L548.29 243.86 L551.71 239.12 L555.25 234.38 L558.91 229.63 L562.7 224.89 L566.63 220.15 L570.7 215.41 L574.93 210.67 L579.33 205.93 L583.89 201.18 L588.64 196.44 L593.59 191.7 L598.74 186.96 L604.11 182.22 L609.72 177.47 L615.57 172.73 L621.7 167.99 L628.1 163.25"/>
<path d="M514.6 305.5 L516.96 300.76 L519.39 296.02 L521.89 291.27 L524.46 286.53 L527.12 281.79 L529.85 277.05 L532.66 272.31 L535.56 267.57 L538.56 262.82 L541.65 258.08 L544.85 253.34 L548.15 248.6 L551.56 243.86 L555.09 239.12 L558.75 234.38 L562.53 229.63 L566.46 224.89 L570.53 220.15 L574.75 215.41 L579.14 210.67 L583.7 205.93 L588.44 201.18 L593.37 196.44 L598.52 191.7 L603.88 186.96 L609.47 182.22 L615.32 177.47 L621.43 172.73 L627.82 167.99"/>
</g>
<g clip-path="url(#dclip)" fill="none" stroke="#ff1e14" stroke-width="1.3">
<path d="M487.6 305.5 L489.26 300.76 L490.95 296.02 L492.69 291.27 L494.47 286.53 L496.3 281.79 L498.17 277.05 L500.09 272.31 L502.05 267.57 L504.07 262.82 L506.15 258.08 L508.27 253.34 L510.46 248.6 L512.7 243.86 L515.01 239.12 L517.39 234.38 L519.83 229.63 L522.34 224.89 L524.93 220.15 L527.59 215.41 L530.34 210.67 L533.17 205.93 L536.09 201.18 L539.1 196.44 L542.21 191.7 L545.42 186.96 L548.74 182.22 L552.18 177.47 L555.73 172.73 L559.41 167.99 L563.22 163.25 L567.17 158.51 L571.26 153.77 L575.51 149.03 L579.93 144.28 L584.52 139.54 L589.29 134.8 L594.27 130.06 L599.45 125.32 L604.85 120.57 L610.49 115.83 L616.38 111.09 L622.54 106.35 L628.98 101.61"/>
<path d="M488.55 305.5 L490.23 300.76 L491.95 296.02 L493.71 291.27 L495.52 286.53 L497.37 281.79 L499.27 277.05 L501.21 272.31 L503.21 267.57 L505.26 262.82 L507.36 258.08 L509.52 253.34 L511.74 248.6 L514.03 243.86 L516.37 239.12 L518.78 234.38 L521.27 229.63 L523.82 224.89 L526.45 220.15 L529.16 215.41 L531.96 210.67 L534.84 205.93 L537.81 201.18 L540.88 196.44 L544.05 191.7 L547.32 186.96 L550.71 182.22 L554.21 177.47 L557.83 172.73 L561.58 167.99 L565.47 163.25 L569.51 158.51 L573.69 153.77 L578.04 149.03 L582.55 144.28 L587.25 139.54 L592.13 134.8 L597.22 130.06 L602.53 125.32 L608.07 120.57 L613.85 115.83 L619.89 111.09 L626.21 106.35"/>
<path d="M489.5 305.5 L491.2 300.76 L492.95 296.02 L494.73 291.27 L496.57 286.53 L498.44 281.79 L500.37 277.05 L502.34 272.31 L504.37 267.57 L506.45 262.82 L508.59 258.08 L510.78 253.34 L513.03 248.6 L515.35 243.86 L517.73 239.12 L520.19 234.38 L522.71 229.63 L525.31 224.89 L527.98 220.15 L530.74 215.41 L533.58 210.67 L536.52 205.93 L539.54 201.18 L542.67 196.44 L545.89 191.7 L549.23 186.96 L552.68 182.22 L556.25 177.47 L559.95 172.73 L563.78 167.99 L567.75 163.25 L571.87 158.51 L576.14 153.77 L580.58 149.03 L585.2 144.28 L590 139.54 L595 134.8 L600.21 130.06 L605.65 125.32 L611.32 120.57 L617.25 115.83 L623.45 111.09 L629.94 106.35"/>
<path d="M490.45 305.5 L492.18 300.76 L493.94 296.02 L495.76 291.27 L497.61 286.53 L499.52 281.79 L501.47 277.05 L503.47 272.31 L505.53 267.57 L507.64 262.82 L509.81 258.08 L512.04 253.34 L514.33 248.6 L516.68 243.86 L519.1 239.12 L521.59 234.38 L524.16 229.63 L526.8 224.89 L529.52 220.15 L532.32 215.41 L535.22 210.67 L538.2 205.93 L541.28 201.18 L544.46 196.44 L547.75 191.7 L551.15 186.96 L554.67 182.22 L558.31 177.47 L562.08 172.73 L565.99 167.99 L570.04 163.25 L574.24 158.51 L578.61 153.77 L583.15 149.03 L587.87 144.28 L592.78 139.54 L597.9 134.8 L603.23 130.06 L608.8 125.32 L614.61 120.57 L620.69 115.83 L627.05 111.09"/>
<path d="M491.4 305.5 L493.15 300.76 L494.94 296.02 L496.78 291.27 L498.66 286.53 L500.59 281.79 L502.57 277.05 L504.6 272.31 L506.69 267.57 L508.83 262.82 L511.03 258.08 L513.29 253.34 L515.62 248.6 L518.01 243.86 L520.47 239.12 L523 234.38 L525.61 229.63 L528.29 224.89 L531.06 220.15 L533.91 215.41 L536.86 210.67 L539.89 205.93 L543.03 201.18 L546.27 196.44 L549.62 191.7 L553.08 186.96 L556.67 182.22 L560.38 177.47 L564.22 172.73 L568.21 167.99 L572.35 163.25 L576.64 158.51 L581.1 153.77 L585.74 149.03 L590.56 144.28 L595.59 139.54 L600.82 134.8 L606.28 130.06 L611.98 125.32 L617.94 120.57 L624.18 115.83 L630.7 111.09"/>
<path d="M492.35 305.5 L494.12 300.76 L495.94 296.02 L497.8 291.27 L499.71 286.53 L501.67 281.79 L503.67 277.05 L505.74 272.31 L507.85 267.57 L510.03 262.82 L512.26 258.08 L514.56 253.34 L516.92 248.6 L519.35 243.86 L521.84 239.12 L524.42 234.38 L527.06 229.63 L529.79 224.89 L532.61 220.15 L535.51 215.41 L538.5 210.67 L541.59 205.93 L544.79 201.18 L548.09 196.44 L551.5 191.7 L555.02 186.96 L558.68 182.22 L562.46 177.47 L566.38 172.73 L570.45 167.99 L574.67 163.25 L579.05 158.51 L583.61 153.77 L588.35 149.03 L593.28 144.28 L598.42 139.54 L603.77 134.8 L609.37 130.06 L615.21 125.32 L621.31 120.57 L627.7 115.83"/>
<path d="M493.3 305.5 L495.1 300.76 L496.94 296.02 L498.82 291.27 L500.76 286.53 L502.74 281.79 L504.78 277.05 L506.87 272.31 L509.02 267.57 L511.22 262.82 L513.49 258.08 L515.82 253.34 L518.22 248.6 L520.68 243.86 L523.22 239.12 L525.83 234.38 L528.53 229.63 L531.3 224.89 L534.16 220.15 L537.11 215.41 L540.16 210.67 L543.3 205.93 L546.55 201.18 L549.91 196.44 L553.38 191.7 L556.98 186.96 L560.7 182.22 L564.56 177.47 L568.56 172.73 L572.71 167.99 L577.01 163.25 L581.49 158.51 L586.14 153.77 L590.98 149.03 L596.02 144.28 L601.28 139.54 L606.76 134.8 L612.48 130.06 L618.46 125.32 L624.72 120.57 L631.27 115.83"/>
<path d="M494.25 305.5 L496.07 300.76 L497.93 296.02 L499.85 291.27 L501.81 286.53 L503.82 281.79 L505.89 277.05 L508.01 272.31 L510.18 267.57 L512.42 262.82 L514.72 258.08 L517.09 253.34 L519.52 248.6 L522.02 243.86 L524.6 239.12 L527.26 234.38 L529.99 229.63 L532.81 224.89 L535.72 220.15 L538.72 215.41 L541.82 210.67 L545.02 205.93 L548.32 201.18 L551.74 196.44 L555.28 191.7 L558.94 186.96 L562.74 182.22 L566.67 177.47 L570.74 172.73 L574.98 167.99 L579.37 163.25 L583.94 158.51 L588.69 153.77 L593.64 149.03 L598.79 144.28 L604.16 139.54 L609.77 134.8 L615.63 130.06 L621.76 125.32 L628.17 120.57"/>
<path d="M495.2 305.5 L497.04 300.76 L498.93 296.02 L500.87 291.27 L502.86 286.53 L504.9 281.79 L506.99 277.05 L509.14 272.31 L511.35 267.57 L513.62 262.82 L515.96 258.08 L518.36 253.34 L520.83 248.6 L523.37 243.86 L525.99 239.12 L528.68 234.38 L531.46 229.63 L534.33 224.89 L537.28 220.15 L540.34 215.41 L543.49 210.67 L546.74 205.93 L550.11 201.18 L553.59 196.44 L557.19 191.7 L560.92 186.96 L564.78 182.22 L568.79 177.47 L572.95 172.73 L577.26 167.99 L581.75 163.25 L586.41 158.51 L591.26 153.77 L596.32 149.03 L601.59 144.28 L607.08 139.54 L612.82 134.8 L618.81 130.06 L625.09 125.32"/>
</g>
<g clip-path="url(#dclip)"><path d="M495.6 305.5 L497.45 300.76 L499.35 296.02 L501.3 291.27 L503.3 286.53 L505.35 281.79 L507.46 277.05 L509.62 272.31 L511.84 267.57 L514.13 262.82 L516.48 258.08 L518.89 253.34 L521.38 248.6 L523.94 243.86 L526.57 239.12 L529.28 234.38 L532.08 229.63 L534.97 224.89 L537.94 220.15 L541.02 215.41 L544.19 210.67 L547.47 205.93 L550.86 201.18 L554.37 196.44 L557.99 191.7 L561.75 186.96 L565.65 182.22 L569.69 177.47 L573.88 172.73 L578.23 167.99 L582.76 163.25 L587.46 158.51 L592.35 153.77 L597.45 149.03 L602.77 144.28 L608.32 139.54 L614.11 134.8 L620.16 130.06 L626.5 125.32 L629.47 139.54 L623 144.28 L616.82 149.03 L610.91 153.77 L605.25 158.51 L599.83 163.25 L594.64 167.99 L589.65 172.73 L584.86 177.47 L580.26 182.22 L575.83 186.96 L571.57 191.7 L567.46 196.44 L563.5 201.18 L559.68 205.93 L555.99 210.67 L552.43 215.41 L548.99 220.15 L545.66 224.89 L542.44 229.63 L539.32 234.38 L536.3 239.12 L533.38 243.86 L530.54 248.6 L527.79 253.34 L525.12 258.08 L522.53 262.82 L520.01 267.57 L517.56 272.31 L515.18 277.05 L512.87 281.79 L510.62 286.53 L508.43 291.27 L506.3 296.02 L504.22 300.76 L502.2 305.5 Z" fill="#ff1e0e" stroke="#ff1e0e" stroke-width="0.8"/></g>
<g clip-path="url(#dclip)"><path d="M517 305.5 L519.43 300.76 L521.93 296.02 L524.51 291.27 L527.16 286.53 L529.89 281.79 L532.71 277.05 L535.61 272.31 L538.61 267.57 L541.7 262.82 L544.9 258.08 L548.2 253.34 L551.62 248.6 L555.15 243.86 L558.81 239.12 L562.59 234.38 L566.52 229.63 L570.59 224.89 L574.82 220.15 L579.21 215.41 L583.77 210.67 L588.51 205.93 L593.45 201.18 L598.6 196.44 L603.96 191.7 L609.56 186.96 L615.41 182.22 L621.53 177.47 L627.93 172.73" fill="none" stroke="#33ee22" stroke-width="1.6"/></g>
<g fill="#ff2a1a">
<circle cx="442.9" cy="231.1" r="2.2"/>
<circle cx="446.6" cy="233" r="2.2"/>
<circle cx="487.9" cy="223.6" r="2.2"/>
<circle cx="496.2" cy="242.9" r="2.2"/>
<circle cx="504.6" cy="199.5" r="2.2"/>
<circle cx="524.5" cy="210.5" r="2.2"/>
<circle cx="545.6" cy="246.5" r="2.2"/>
<circle cx="559.5" cy="232.7" r="2.2"/>
<circle cx="555" cy="213.8" r="2.2"/>
<circle cx="534.3" cy="204.4" r="2.2"/>
<circle cx="539.1" cy="199.2" r="2.2"/>
<circle cx="544" cy="193" r="2.2"/>
<circle cx="535.9" cy="209.9" r="2.2"/>
<circle cx="533.2" cy="216.5" r="2.2"/>
<circle cx="537.2" cy="217.9" r="2.2"/>
<circle cx="529.2" cy="227.2" r="2.2"/>
<circle cx="531.9" cy="223.2" r="2.2"/>
<circle cx="526.5" cy="233.8" r="2.2"/>
<circle cx="523.9" cy="240.5" r="2.2"/>
<circle cx="527.9" cy="237.8" r="2.2"/>
<circle cx="537.2" cy="239.1" r="2.2"/>
<circle cx="526" cy="232" r="2.2"/>
<circle cx="528" cy="226" r="2.2"/>
<circle cx="531" cy="220" r="2.2"/>
<circle cx="533" cy="212" r="2.2"/>
<circle cx="536" cy="208" r="2.2"/>
<circle cx="534" cy="228" r="2.2"/>
<circle cx="535" cy="213" r="2.2"/>
<circle cx="530" cy="231" r="2.2"/>
<circle cx="525" cy="245" r="2.2"/>
<circle cx="522" cy="250" r="2.2"/>
</g>
<circle cx="558.2" cy="239.3" r="3.4" fill="#44ee22"/>
<rect x="374.5" y="21" width="245.5" height="284.5" fill="none" stroke="#6a6a6a" stroke-width="0.7"/>
<text x="374.5" y="319.2" font-size="10.5" text-anchor="middle" fill="#262626" >2500</text>
<path d="M455.8 305.5v-2.5M455.8 21v2.5" stroke="#333" stroke-width="0.9"/>
<text x="455.8" y="319.2" font-size="10.5" text-anchor="middle" fill="#262626" >9950</text>
<path d="M537.6 305.5v-2.5M537.6 21v2.5" stroke="#333" stroke-width="0.9"/>
<text x="537.6" y="319.2" font-size="10.5" text-anchor="middle" fill="#262626" >17475</text>
<text x="620" y="319.2" font-size="10.5" text-anchor="middle" fill="#262626" >25000</text>
<text x="369.2" y="24.7" font-size="10.5" text-anchor="end" fill="#262626" >0.962</text>
<path d="M374.5 115.8h2.5M620 115.8h-2.5" stroke="#333" stroke-width="0.9"/>
<text x="369.2" y="119.5" font-size="10.5" text-anchor="end" fill="#262626" >0.963</text>
<path d="M374.5 210.7h2.5M620 210.7h-2.5" stroke="#333" stroke-width="0.9"/>
<text x="369.2" y="214.4" font-size="10.5" text-anchor="end" fill="#262626" >0.965</text>
<text x="369.2" y="309.2" font-size="10.5" text-anchor="end" fill="#262626" >0.966</text>
<text x="497" y="334.2" font-size="12.2" text-anchor="middle" fill="#262626">Rate R (Hz)</text>
<text class="r" transform="translate(344.0 163) rotate(-90)" font-size="12.2" text-anchor="middle" fill="#262626">Fidelity F</text>
<rect x="642" y="21.3" width="17" height="284" fill="url(#cb)" stroke="#4a4a4a" stroke-width="0.8"/>
<path d="M659 41.8h-2.5" stroke="#333" stroke-width="0.9"/>
<text x="662.8" y="45.7" font-size="9.6" text-anchor="start" fill="#262626" >0.065</text>
<path d="M659 88.9h-2.5" stroke="#333" stroke-width="0.9"/>
<text x="662.8" y="92.8" font-size="9.6" text-anchor="start" fill="#262626" >0.06</text>
<path d="M659 136h-2.5" stroke="#333" stroke-width="0.9"/>
<text x="662.8" y="139.9" font-size="9.6" text-anchor="start" fill="#262626" >0.055</text>
<path d="M659 183.1h-2.5" stroke="#333" stroke-width="0.9"/>
<text x="662.8" y="187" font-size="9.6" text-anchor="start" fill="#262626" >0.05</text>
<path d="M659 230.2h-2.5" stroke="#333" stroke-width="0.9"/>
<text x="662.8" y="234.1" font-size="9.6" text-anchor="start" fill="#262626" >0.045</text>
<path d="M659 277.3h-2.5" stroke="#333" stroke-width="0.9"/>
<text x="662.8" y="281.2" font-size="9.6" text-anchor="start" fill="#262626" >0.04</text>
<text x="628.6" y="16.9" font-size="10.7" fill="#262626">1 - Fe<tspan font-size="8.6" dy="-6">-1/RT</tspan><tspan font-size="7.6" dy="6.1">2</tspan></text>
</svg></body></html>
